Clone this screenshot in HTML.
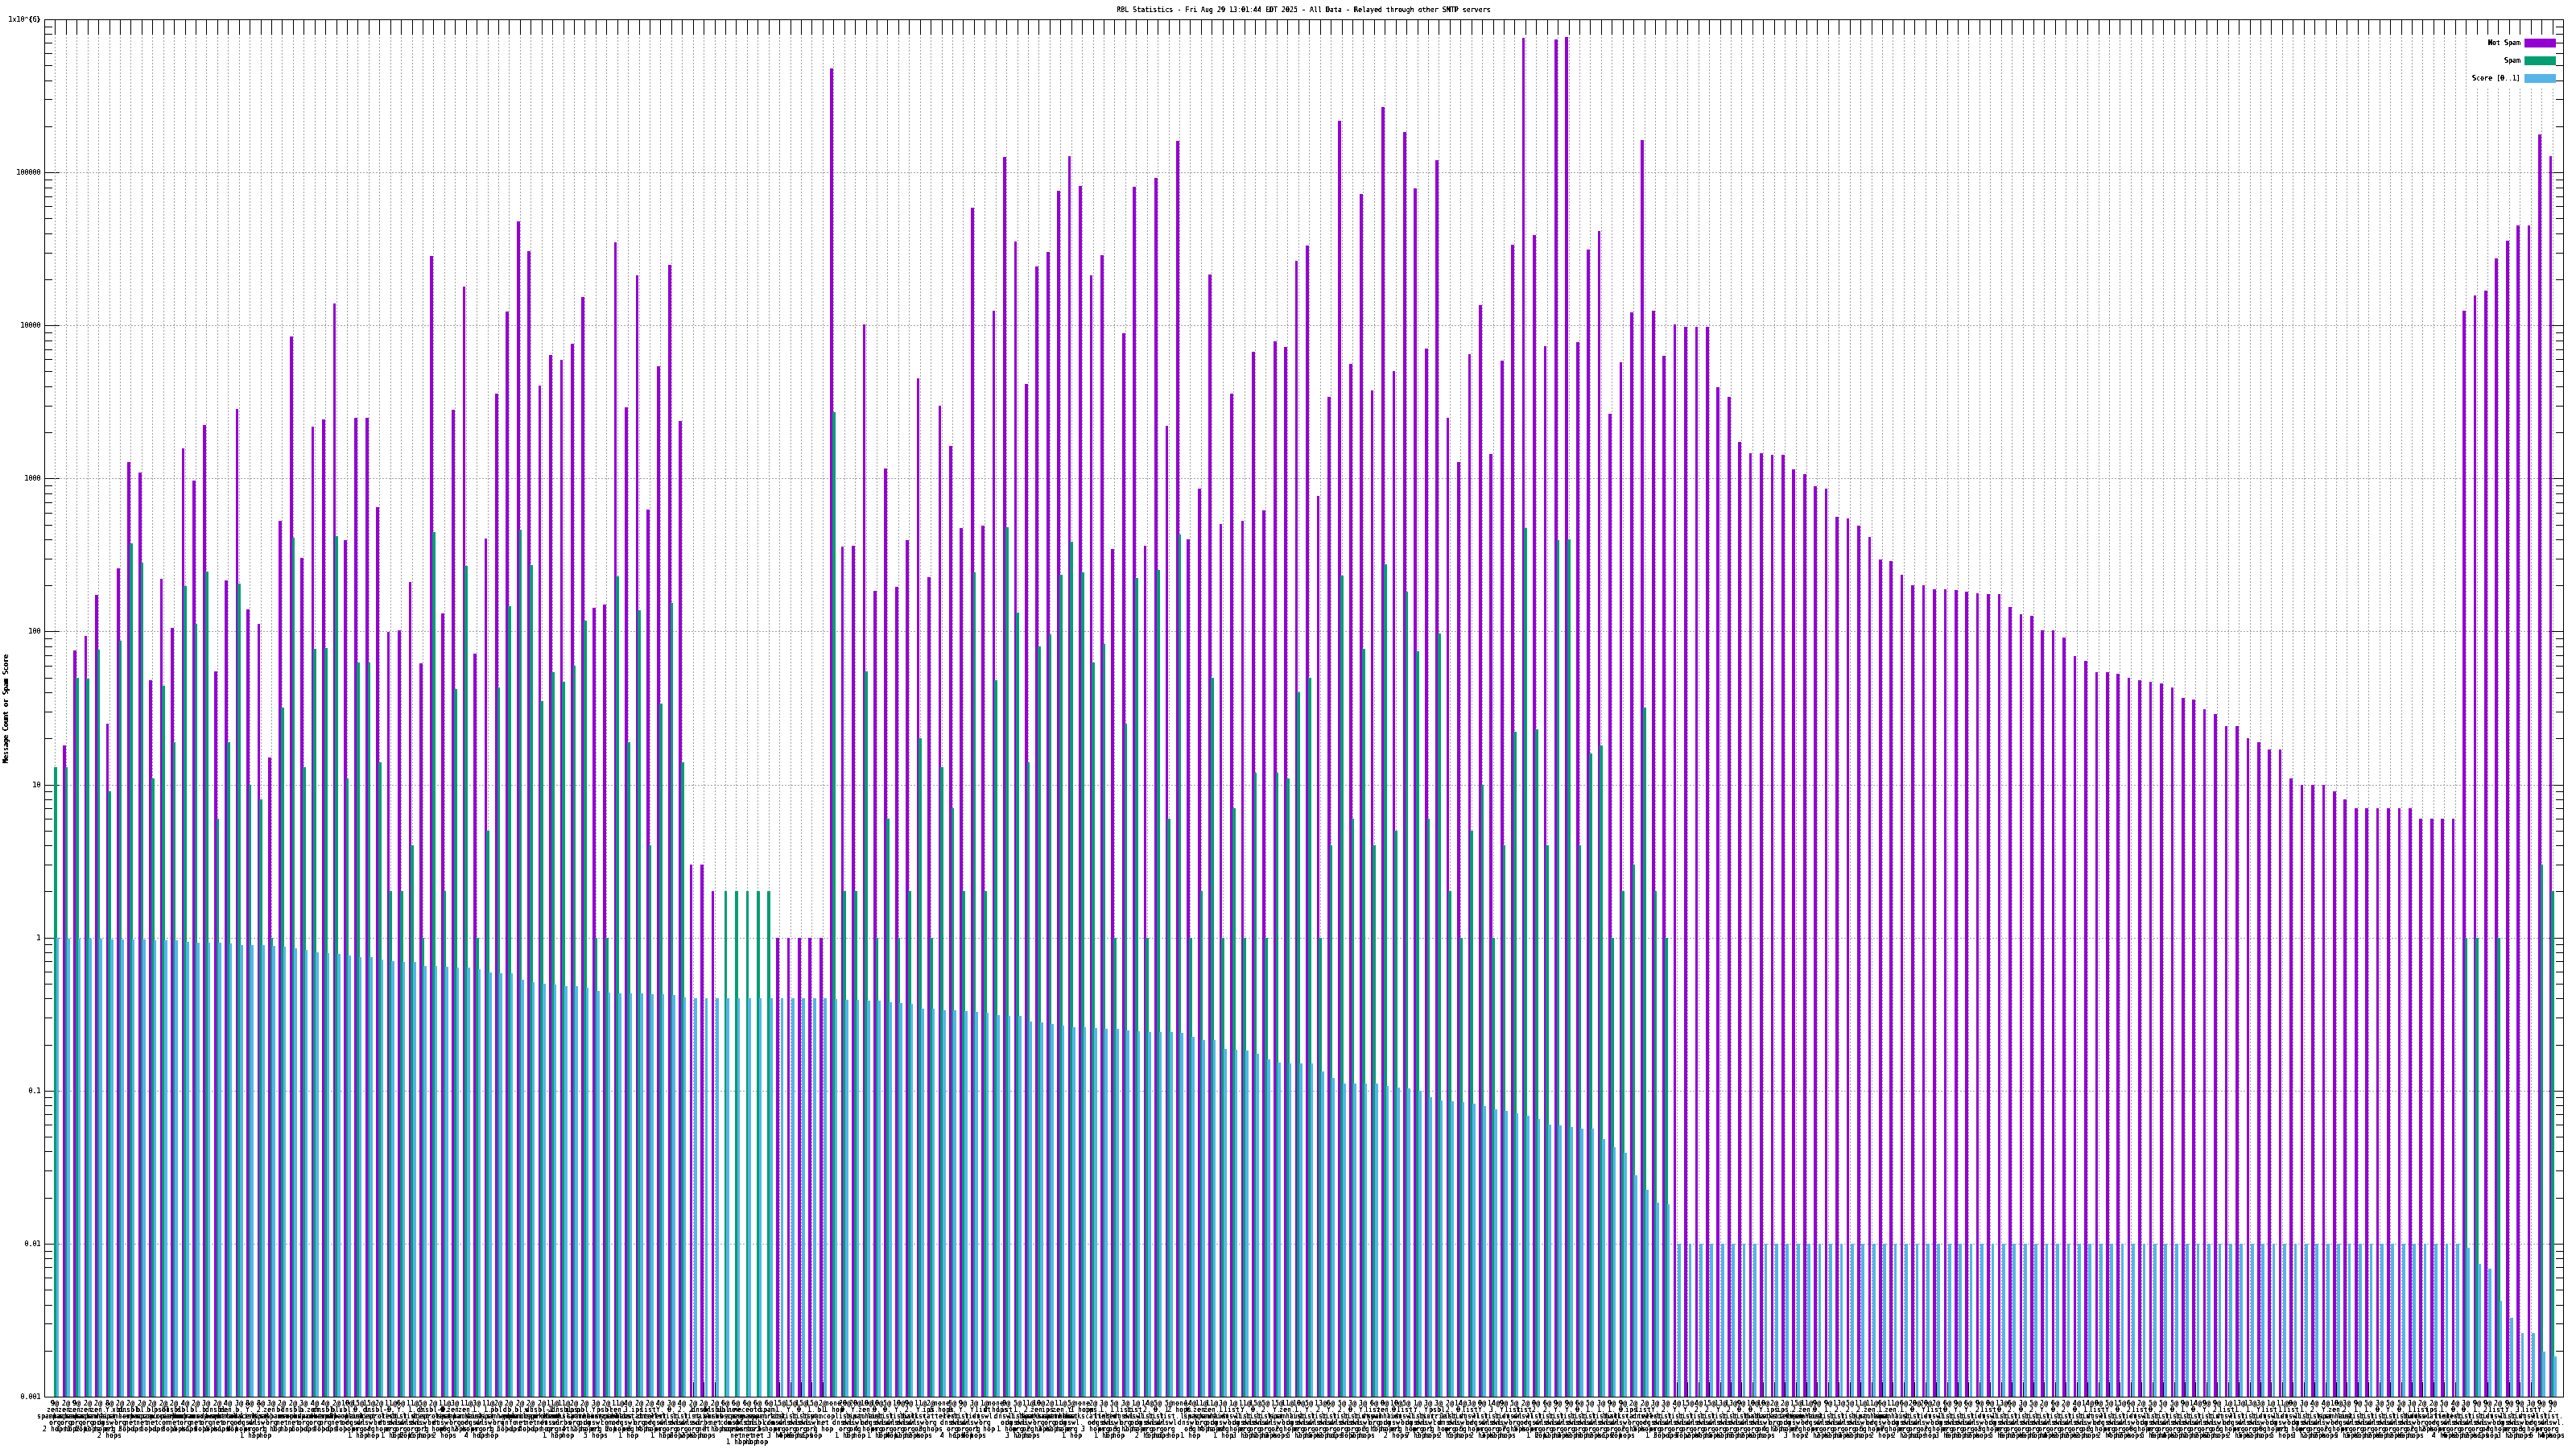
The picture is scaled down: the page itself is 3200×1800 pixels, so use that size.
<!DOCTYPE html>
<html><head><meta charset="utf-8"><title>RBL Statistics</title>
<style>
html,body{margin:0;padding:0;background:#fff;}
body{width:3200px;height:1800px;overflow:hidden;}
svg{display:block;}
text{filter:url(#cr);font-family:"DejaVu Sans Mono","Liberation Mono",monospace;font-size:8.305px;fill:#000;}
.m{text-anchor:middle}.e{text-anchor:end}
</style></head><body>
<svg width="3200" height="1800" viewBox="0 0 3200 1800">
<rect width="3200" height="1800" fill="#fff"/>
<g shape-rendering="crispEdges" fill="none">
<path stroke="#a0a0a0" stroke-width="1" stroke-dasharray="2 2" d="M59 214.5H3184M59 404.5H3184M59 594.5H3184M59 784.5H3184M59 975.5H3184M59 1165.5H3184M59 1355.5H3184M59 1545.5H3184"/>
<path stroke="#000" stroke-width="1" d="M55 24.5H74M3166 24.5H3185M55 157.5H65M3175 157.5H3185M55 123.5H65M3175 123.5H3185M55 100.5H65M3175 100.5H3185M55 81.5H65M3175 81.5H3185M55 66.5H65M3175 66.5H3185M55 53.5H65M3175 53.5H3185M55 42.5H65M3175 42.5H3185M55 33.5H65M3175 33.5H3185M55 214.5H74M3166 214.5H3185M55 347.5H65M3175 347.5H3185M55 314.5H65M3175 314.5H3185M55 290.5H65M3175 290.5H3185M55 271.5H65M3175 271.5H3185M55 256.5H65M3175 256.5H3185M55 244.5H65M3175 244.5H3185M55 233.5H65M3175 233.5H3185M55 223.5H65M3175 223.5H3185M55 404.5H74M3166 404.5H3185M55 537.5H65M3175 537.5H3185M55 504.5H65M3175 504.5H3185M55 480.5H65M3175 480.5H3185M55 461.5H65M3175 461.5H3185M55 446.5H65M3175 446.5H3185M55 434.5H65M3175 434.5H3185M55 423.5H65M3175 423.5H3185M55 413.5H65M3175 413.5H3185M55 594.5H74M3166 594.5H3185M55 727.5H65M3175 727.5H3185M55 694.5H65M3175 694.5H3185M55 670.5H65M3175 670.5H3185M55 652.5H65M3175 652.5H3185M55 637.5H65M3175 637.5H3185M55 624.5H65M3175 624.5H3185M55 613.5H65M3175 613.5H3185M55 603.5H65M3175 603.5H3185M55 784.5H74M3166 784.5H3185M55 917.5H65M3175 917.5H3185M55 884.5H65M3175 884.5H3185M55 860.5H65M3175 860.5H3185M55 842.5H65M3175 842.5H3185M55 827.5H65M3175 827.5H3185M55 814.5H65M3175 814.5H3185M55 803.5H65M3175 803.5H3185M55 793.5H65M3175 793.5H3185M55 975.5H74M3166 975.5H3185M55 1107.5H65M3175 1107.5H3185M55 1074.5H65M3175 1074.5H3185M55 1050.5H65M3175 1050.5H3185M55 1032.5H65M3175 1032.5H3185M55 1017.5H65M3175 1017.5H3185M55 1004.5H65M3175 1004.5H3185M55 993.5H65M3175 993.5H3185M55 983.5H65M3175 983.5H3185M55 1165.5H74M3166 1165.5H3185M55 1298.5H65M3175 1298.5H3185M55 1264.5H65M3175 1264.5H3185M55 1240.5H65M3175 1240.5H3185M55 1222.5H65M3175 1222.5H3185M55 1207.5H65M3175 1207.5H3185M55 1194.5H65M3175 1194.5H3185M55 1183.5H65M3175 1183.5H3185M55 1173.5H65M3175 1173.5H3185M55 1355.5H74M3166 1355.5H3185M55 1488.5H65M3175 1488.5H3185M55 1454.5H65M3175 1454.5H3185M55 1430.5H65M3175 1430.5H3185M55 1412.5H65M3175 1412.5H3185M55 1397.5H65M3175 1397.5H3185M55 1384.5H65M3175 1384.5H3185M55 1373.5H65M3175 1373.5H3185M55 1363.5H65M3175 1363.5H3185M55 1545.5H74M3166 1545.5H3185M55 1678.5H65M3175 1678.5H3185M55 1644.5H65M3175 1644.5H3185M55 1621.5H65M3175 1621.5H3185M55 1602.5H65M3175 1602.5H3185M55 1587.5H65M3175 1587.5H3185M55 1574.5H65M3175 1574.5H3185M55 1563.5H65M3175 1563.5H3185M55 1554.5H65M3175 1554.5H3185M55 1735.5H74M3166 1735.5H3185"/>
<path stroke="#a0a0a0" stroke-width="1" stroke-dasharray="2 2" d="M68.5 26V1735M82.5 26V1735M95.5 26V1735M109.5 26V1735M122.5 26V1735M136.5 26V1735M149.5 26V1735M162.5 26V1735M176.5 26V1735M189.5 26V1735M203.5 26V1735M216.5 26V1735M230.5 26V1735M243.5 26V1735M256.5 26V1735M270.5 26V1735M283.5 26V1735M297.5 26V1735M310.5 26V1735M324.5 26V1735M337.5 26V1735M350.5 26V1735M364.5 26V1735M377.5 26V1735M391.5 26V1735M404.5 26V1735M418.5 26V1735M431.5 26V1735M444.5 26V1735M458.5 26V1735M471.5 26V1735M485.5 26V1735M498.5 26V1735M512.5 26V1735M525.5 26V1735M538.5 26V1735M552.5 26V1735M565.5 26V1735M579.5 26V1735M592.5 26V1735M606.5 26V1735M619.5 26V1735M632.5 26V1735M646.5 26V1735M659.5 26V1735M673.5 26V1735M686.5 26V1735M700.5 26V1735M713.5 26V1735M726.5 26V1735M740.5 26V1735M753.5 26V1735M767.5 26V1735M780.5 26V1735M794.5 26V1735M807.5 26V1735M820.5 26V1735M834.5 26V1735M847.5 26V1735M861.5 26V1735M874.5 26V1735M888.5 26V1735M901.5 26V1735M914.5 26V1735M928.5 26V1735M941.5 26V1735M955.5 26V1735M968.5 26V1735M982.5 26V1735M995.5 26V1735M1008.5 26V1735M1022.5 26V1735M1035.5 26V1735M1049.5 26V1735M1062.5 26V1735M1076.5 26V1735M1089.5 26V1735M1102.5 26V1735M1116.5 26V1735M1129.5 26V1735M1143.5 26V1735M1156.5 26V1735M1170.5 26V1735M1183.5 26V1735M1196.5 26V1735M1210.5 26V1735M1223.5 26V1735M1237.5 26V1735M1250.5 26V1735M1264.5 26V1735M1277.5 26V1735M1290.5 26V1735M1304.5 26V1735M1317.5 26V1735M1331.5 26V1735M1344.5 26V1735M1358.5 26V1735M1371.5 26V1735M1384.5 26V1735M1398.5 26V1735M1411.5 26V1735M1425.5 26V1735M1438.5 26V1735M1452.5 26V1735M1465.5 26V1735M1478.5 26V1735M1492.5 26V1735M1505.5 26V1735M1519.5 26V1735M1532.5 26V1735M1546.5 26V1735M1559.5 26V1735M1572.5 26V1735M1586.5 26V1735M1599.5 26V1735M1613.5 26V1735M1626.5 26V1735M1640.5 26V1735M1653.5 26V1735M1667.5 26V1735M1680.5 26V1735M1693.5 26V1735M1707.5 26V1735M1720.5 26V1735M1734.5 26V1735M1747.5 26V1735M1761.5 26V1735M1774.5 26V1735M1787.5 26V1735M1801.5 26V1735M1814.5 26V1735M1828.5 26V1735M1841.5 26V1735M1855.5 26V1735M1868.5 26V1735M1881.5 26V1735M1895.5 26V1735M1908.5 26V1735M1922.5 26V1735M1935.5 26V1735M1949.5 26V1735M1962.5 26V1735M1975.5 26V1735M1989.5 26V1735M2002.5 26V1735M2016.5 26V1735M2029.5 26V1735M2043.5 26V1735M2056.5 26V1735M2069.5 26V1735M2083.5 26V1735M2096.5 26V1735M2110.5 26V1735M2123.5 26V1735M2137.5 26V1735M2150.5 26V1735M2163.5 26V1735M2177.5 26V1735M2190.5 26V1735M2204.5 26V1735M2217.5 26V1735M2231.5 26V1735M2244.5 26V1735M2257.5 26V1735M2271.5 26V1735M2284.5 26V1735M2298.5 26V1735M2311.5 26V1735M2325.5 26V1735M2338.5 26V1735M2351.5 26V1735M2365.5 26V1735M2378.5 26V1735M2392.5 26V1735M2405.5 26V1735M2419.5 26V1735M2432.5 26V1735M2445.5 26V1735M2459.5 26V1735M2472.5 26V1735M2486.5 26V1735M2499.5 26V1735M2513.5 26V1735M2526.5 26V1735M2539.5 26V1735M2553.5 26V1735M2566.5 26V1735M2580.5 26V1735M2593.5 26V1735M2607.5 26V1735M2620.5 26V1735M2633.5 26V1735M2647.5 26V1735M2660.5 26V1735M2674.5 26V1735M2687.5 26V1735M2701.5 26V1735M2714.5 26V1735M2727.5 26V1735M2741.5 26V1735M2754.5 26V1735M2768.5 26V1735M2781.5 26V1735M2795.5 26V1735M2808.5 26V1735M2821.5 26V1735M2835.5 26V1735M2848.5 26V1735M2862.5 26V1735M2875.5 26V1735M2889.5 26V1735M2902.5 26V1735M2915.5 26V1735M2929.5 26V1735M2942.5 26V1735M2956.5 26V1735M2969.5 26V1735M2983.5 26V1735M2996.5 26V1735M3009.5 26V1735M3023.5 26V1735M3036.5 26V1735M3050.5 26V1735M3063.5 26V1735M3077.5 26V1735M3090.5 26V1735M3103.5 26V1735M3117.5 26V1735M3130.5 26V1735M3144.5 26V1735M3157.5 26V1735M3171.5 26V1735"/>
<path stroke="#000" stroke-width="1" d="M68.5 24V43M68.5 1717V1736M82.5 24V43M82.5 1717V1736M95.5 24V43M95.5 1717V1736M109.5 24V43M109.5 1717V1736M122.5 24V43M122.5 1717V1736M136.5 24V43M136.5 1717V1736M149.5 24V43M149.5 1717V1736M162.5 24V43M162.5 1717V1736M176.5 24V43M176.5 1717V1736M189.5 24V43M189.5 1717V1736M203.5 24V43M203.5 1717V1736M216.5 24V43M216.5 1717V1736M230.5 24V43M230.5 1717V1736M243.5 24V43M243.5 1717V1736M256.5 24V43M256.5 1717V1736M270.5 24V43M270.5 1717V1736M283.5 24V43M283.5 1717V1736M297.5 24V43M297.5 1717V1736M310.5 24V43M310.5 1717V1736M324.5 24V43M324.5 1717V1736M337.5 24V43M337.5 1717V1736M350.5 24V43M350.5 1717V1736M364.5 24V43M364.5 1717V1736M377.5 24V43M377.5 1717V1736M391.5 24V43M391.5 1717V1736M404.5 24V43M404.5 1717V1736M418.5 24V43M418.5 1717V1736M431.5 24V43M431.5 1717V1736M444.5 24V43M444.5 1717V1736M458.5 24V43M458.5 1717V1736M471.5 24V43M471.5 1717V1736M485.5 24V43M485.5 1717V1736M498.5 24V43M498.5 1717V1736M512.5 24V43M512.5 1717V1736M525.5 24V43M525.5 1717V1736M538.5 24V43M538.5 1717V1736M552.5 24V43M552.5 1717V1736M565.5 24V43M565.5 1717V1736M579.5 24V43M579.5 1717V1736M592.5 24V43M592.5 1717V1736M606.5 24V43M606.5 1717V1736M619.5 24V43M619.5 1717V1736M632.5 24V43M632.5 1717V1736M646.5 24V43M646.5 1717V1736M659.5 24V43M659.5 1717V1736M673.5 24V43M673.5 1717V1736M686.5 24V43M686.5 1717V1736M700.5 24V43M700.5 1717V1736M713.5 24V43M713.5 1717V1736M726.5 24V43M726.5 1717V1736M740.5 24V43M740.5 1717V1736M753.5 24V43M753.5 1717V1736M767.5 24V43M767.5 1717V1736M780.5 24V43M780.5 1717V1736M794.5 24V43M794.5 1717V1736M807.5 24V43M807.5 1717V1736M820.5 24V43M820.5 1717V1736M834.5 24V43M834.5 1717V1736M847.5 24V43M847.5 1717V1736M861.5 24V43M861.5 1717V1736M874.5 24V43M874.5 1717V1736M888.5 24V43M888.5 1717V1736M901.5 24V43M901.5 1717V1736M914.5 24V43M914.5 1717V1736M928.5 24V43M928.5 1717V1736M941.5 24V43M941.5 1717V1736M955.5 24V43M955.5 1717V1736M968.5 24V43M968.5 1717V1736M982.5 24V43M982.5 1717V1736M995.5 24V43M995.5 1717V1736M1008.5 24V43M1008.5 1717V1736M1022.5 24V43M1022.5 1717V1736M1035.5 24V43M1035.5 1717V1736M1049.5 24V43M1049.5 1717V1736M1062.5 24V43M1062.5 1717V1736M1076.5 24V43M1076.5 1717V1736M1089.5 24V43M1089.5 1717V1736M1102.5 24V43M1102.5 1717V1736M1116.5 24V43M1116.5 1717V1736M1129.5 24V43M1129.5 1717V1736M1143.5 24V43M1143.5 1717V1736M1156.5 24V43M1156.5 1717V1736M1170.5 24V43M1170.5 1717V1736M1183.5 24V43M1183.5 1717V1736M1196.5 24V43M1196.5 1717V1736M1210.5 24V43M1210.5 1717V1736M1223.5 24V43M1223.5 1717V1736M1237.5 24V43M1237.5 1717V1736M1250.5 24V43M1250.5 1717V1736M1264.5 24V43M1264.5 1717V1736M1277.5 24V43M1277.5 1717V1736M1290.5 24V43M1290.5 1717V1736M1304.5 24V43M1304.5 1717V1736M1317.5 24V43M1317.5 1717V1736M1331.5 24V43M1331.5 1717V1736M1344.5 24V43M1344.5 1717V1736M1358.5 24V43M1358.5 1717V1736M1371.5 24V43M1371.5 1717V1736M1384.5 24V43M1384.5 1717V1736M1398.5 24V43M1398.5 1717V1736M1411.5 24V43M1411.5 1717V1736M1425.5 24V43M1425.5 1717V1736M1438.5 24V43M1438.5 1717V1736M1452.5 24V43M1452.5 1717V1736M1465.5 24V43M1465.5 1717V1736M1478.5 24V43M1478.5 1717V1736M1492.5 24V43M1492.5 1717V1736M1505.5 24V43M1505.5 1717V1736M1519.5 24V43M1519.5 1717V1736M1532.5 24V43M1532.5 1717V1736M1546.5 24V43M1546.5 1717V1736M1559.5 24V43M1559.5 1717V1736M1572.5 24V43M1572.5 1717V1736M1586.5 24V43M1586.5 1717V1736M1599.5 24V43M1599.5 1717V1736M1613.5 24V43M1613.5 1717V1736M1626.5 24V43M1626.5 1717V1736M1640.5 24V43M1640.5 1717V1736M1653.5 24V43M1653.5 1717V1736M1667.5 24V43M1667.5 1717V1736M1680.5 24V43M1680.5 1717V1736M1693.5 24V43M1693.5 1717V1736M1707.5 24V43M1707.5 1717V1736M1720.5 24V43M1720.5 1717V1736M1734.5 24V43M1734.5 1717V1736M1747.5 24V43M1747.5 1717V1736M1761.5 24V43M1761.5 1717V1736M1774.5 24V43M1774.5 1717V1736M1787.5 24V43M1787.5 1717V1736M1801.5 24V43M1801.5 1717V1736M1814.5 24V43M1814.5 1717V1736M1828.5 24V43M1828.5 1717V1736M1841.5 24V43M1841.5 1717V1736M1855.5 24V43M1855.5 1717V1736M1868.5 24V43M1868.5 1717V1736M1881.5 24V43M1881.5 1717V1736M1895.5 24V43M1895.5 1717V1736M1908.5 24V43M1908.5 1717V1736M1922.5 24V43M1922.5 1717V1736M1935.5 24V43M1935.5 1717V1736M1949.5 24V43M1949.5 1717V1736M1962.5 24V43M1962.5 1717V1736M1975.5 24V43M1975.5 1717V1736M1989.5 24V43M1989.5 1717V1736M2002.5 24V43M2002.5 1717V1736M2016.5 24V43M2016.5 1717V1736M2029.5 24V43M2029.5 1717V1736M2043.5 24V43M2043.5 1717V1736M2056.5 24V43M2056.5 1717V1736M2069.5 24V43M2069.5 1717V1736M2083.5 24V43M2083.5 1717V1736M2096.5 24V43M2096.5 1717V1736M2110.5 24V43M2110.5 1717V1736M2123.5 24V43M2123.5 1717V1736M2137.5 24V43M2137.5 1717V1736M2150.5 24V43M2150.5 1717V1736M2163.5 24V43M2163.5 1717V1736M2177.5 24V43M2177.5 1717V1736M2190.5 24V43M2190.5 1717V1736M2204.5 24V43M2204.5 1717V1736M2217.5 24V43M2217.5 1717V1736M2231.5 24V43M2231.5 1717V1736M2244.5 24V43M2244.5 1717V1736M2257.5 24V43M2257.5 1717V1736M2271.5 24V43M2271.5 1717V1736M2284.5 24V43M2284.5 1717V1736M2298.5 24V43M2298.5 1717V1736M2311.5 24V43M2311.5 1717V1736M2325.5 24V43M2325.5 1717V1736M2338.5 24V43M2338.5 1717V1736M2351.5 24V43M2351.5 1717V1736M2365.5 24V43M2365.5 1717V1736M2378.5 24V43M2378.5 1717V1736M2392.5 24V43M2392.5 1717V1736M2405.5 24V43M2405.5 1717V1736M2419.5 24V43M2419.5 1717V1736M2432.5 24V43M2432.5 1717V1736M2445.5 24V43M2445.5 1717V1736M2459.5 24V43M2459.5 1717V1736M2472.5 24V43M2472.5 1717V1736M2486.5 24V43M2486.5 1717V1736M2499.5 24V43M2499.5 1717V1736M2513.5 24V43M2513.5 1717V1736M2526.5 24V43M2526.5 1717V1736M2539.5 24V43M2539.5 1717V1736M2553.5 24V43M2553.5 1717V1736M2566.5 24V43M2566.5 1717V1736M2580.5 24V43M2580.5 1717V1736M2593.5 24V43M2593.5 1717V1736M2607.5 24V43M2607.5 1717V1736M2620.5 24V43M2620.5 1717V1736M2633.5 24V43M2633.5 1717V1736M2647.5 24V43M2647.5 1717V1736M2660.5 24V43M2660.5 1717V1736M2674.5 24V43M2674.5 1717V1736M2687.5 24V43M2687.5 1717V1736M2701.5 24V43M2701.5 1717V1736M2714.5 24V43M2714.5 1717V1736M2727.5 24V43M2727.5 1717V1736M2741.5 24V43M2741.5 1717V1736M2754.5 24V43M2754.5 1717V1736M2768.5 24V43M2768.5 1717V1736M2781.5 24V43M2781.5 1717V1736M2795.5 24V43M2795.5 1717V1736M2808.5 24V43M2808.5 1717V1736M2821.5 24V43M2821.5 1717V1736M2835.5 24V43M2835.5 1717V1736M2848.5 24V43M2848.5 1717V1736M2862.5 24V43M2862.5 1717V1736M2875.5 24V43M2875.5 1717V1736M2889.5 24V43M2889.5 1717V1736M2902.5 24V43M2902.5 1717V1736M2915.5 24V43M2915.5 1717V1736M2929.5 24V43M2929.5 1717V1736M2942.5 24V43M2942.5 1717V1736M2956.5 24V43M2956.5 1717V1736M2969.5 24V43M2969.5 1717V1736M2983.5 24V43M2983.5 1717V1736M2996.5 24V43M2996.5 1717V1736M3009.5 24V43M3009.5 1717V1736M3023.5 24V43M3023.5 1717V1736M3036.5 24V43M3036.5 1717V1736M3050.5 24V43M3050.5 1717V1736M3063.5 24V43M3063.5 1717V1736M3077.5 24V43M3077.5 1717V1736M3090.5 24V43M3090.5 1717V1736M3103.5 24V43M3103.5 1717V1736M3117.5 24V43M3117.5 1717V1736M3130.5 24V43M3130.5 1717V1736M3144.5 24V43M3144.5 1717V1736M3157.5 24V43M3157.5 1717V1736M3171.5 24V43M3171.5 1717V1736"/>
</g>
<g shape-rendering="crispEdges">
<rect x="3066" y="43" width="109" height="66" fill="#fff"/>
<rect x="3136" y="48" width="39" height="11" fill="#9400d3"/>
<rect x="3136" y="70" width="39" height="11" fill="#009e73"/>
<rect x="3136" y="92" width="39" height="11" fill="#56b4e9"/>
<path fill="#9400d3" d="M78 926h4v809h-4zM91 808h4v927h-4zM105 790h3v945h-3zM118 739h4v996h-4zM132 899h3v836h-3zM145 706h4v1029h-4zM158 574h4v1161h-4zM172 587h4v1148h-4zM185 845h4v890h-4zM199 719h3v1016h-3zM212 780h4v955h-4zM226 557h3v1178h-3zM239 597h4v1138h-4zM252 528h4v1207h-4zM266 834h4v901h-4zM279 721h4v1014h-4zM293 508h3v1227h-3zM306 757h4v978h-4zM320 775h3v960h-3zM333 941h4v794h-4zM346 647h4v1088h-4zM360 418h4v1317h-4zM373 693h4v1042h-4zM387 530h3v1205h-3zM400 521h4v1214h-4zM414 377h3v1358h-3zM427 671h4v1064h-4zM440 519h4v1216h-4zM454 519h4v1216h-4zM467 630h4v1105h-4zM481 785h3v950h-3zM494 783h4v952h-4zM508 723h3v1012h-3zM521 824h4v911h-4zM534 318h4v1417h-4zM548 762h4v973h-4zM561 509h4v1226h-4zM575 356h3v1379h-3zM588 812h4v923h-4zM602 669h3v1066h-3zM615 489h4v1246h-4zM628 387h4v1348h-4zM642 275h4v1460h-4zM655 312h4v1423h-4zM669 479h3v1256h-3zM682 441h4v1294h-4zM696 447h3v1288h-3zM709 427h4v1308h-4zM722 369h4v1366h-4zM736 755h4v980h-4zM749 751h4v984h-4zM763 301h3v1434h-3zM776 506h4v1229h-4zM790 342h3v1393h-3zM803 633h4v1102h-4zM816 455h4v1280h-4zM830 329h4v1406h-4zM843 523h4v1212h-4zM857 1074h3v661h-3zM870 1074h4v661h-4zM884 1107h3v628h-3zM964 1165h4v570h-4zM978 1165h3v570h-3zM991 1165h4v570h-4zM1004 1165h4v570h-4zM1018 1165h4v570h-4zM1031 85h4v1650h-4zM1045 679h3v1056h-3zM1058 678h4v1057h-4zM1072 403h3v1332h-3zM1085 734h4v1001h-4zM1098 582h4v1153h-4zM1112 729h4v1006h-4zM1125 671h4v1064h-4zM1139 470h3v1265h-3zM1152 717h4v1018h-4zM1166 504h3v1231h-3zM1179 554h4v1181h-4zM1192 656h4v1079h-4zM1206 258h4v1477h-4zM1219 653h4v1082h-4zM1233 386h3v1349h-3zM1246 195h4v1540h-4zM1260 300h3v1435h-3zM1273 477h4v1258h-4zM1286 331h4v1404h-4zM1300 313h4v1422h-4zM1313 237h4v1498h-4zM1327 194h3v1541h-3zM1340 231h4v1504h-4zM1354 342h3v1393h-3zM1367 317h4v1418h-4zM1380 682h4v1053h-4zM1394 414h4v1321h-4zM1407 232h4v1503h-4zM1421 678h3v1057h-3zM1434 221h4v1514h-4zM1448 529h3v1206h-3zM1461 175h4v1560h-4zM1474 670h4v1065h-4zM1488 607h4v1128h-4zM1501 341h4v1394h-4zM1515 651h3v1084h-3zM1528 489h4v1246h-4zM1542 647h3v1088h-3zM1555 437h4v1298h-4zM1568 634h4v1101h-4zM1582 424h4v1311h-4zM1595 431h4v1304h-4zM1609 324h3v1411h-3zM1622 305h4v1430h-4zM1636 616h3v1119h-3zM1649 493h4v1242h-4zM1662 150h4v1585h-4zM1676 452h4v1283h-4zM1689 241h4v1494h-4zM1703 485h3v1250h-3zM1716 133h4v1602h-4zM1730 461h3v1274h-3zM1743 164h4v1571h-4zM1756 234h4v1501h-4zM1770 433h4v1302h-4zM1783 199h4v1536h-4zM1797 519h3v1216h-3zM1810 574h4v1161h-4zM1824 440h3v1295h-3zM1837 379h4v1356h-4zM1850 564h4v1171h-4zM1864 448h4v1287h-4zM1877 304h4v1431h-4zM1891 47h3v1688h-3zM1904 292h4v1443h-4zM1918 430h3v1305h-3zM1931 49h4v1686h-4zM1944 46h4v1689h-4zM1958 425h4v1310h-4zM1971 310h4v1425h-4zM1985 287h3v1448h-3zM1998 514h4v1221h-4zM2012 450h3v1285h-3zM2025 388h4v1347h-4zM2038 174h4v1561h-4zM2052 386h4v1349h-4zM2065 442h4v1293h-4zM2079 403h3v1332h-3zM2092 406h4v1329h-4zM2106 406h3v1329h-3zM2119 406h4v1329h-4zM2132 481h4v1254h-4zM2146 493h4v1242h-4zM2159 549h4v1186h-4zM2173 563h3v1172h-3zM2186 563h4v1172h-4zM2200 565h3v1170h-3zM2213 565h4v1170h-4zM2226 583h4v1152h-4zM2240 589h4v1146h-4zM2253 604h4v1131h-4zM2267 607h3v1128h-3zM2280 642h4v1093h-4zM2294 644h3v1091h-3zM2307 653h4v1082h-4zM2321 667h3v1068h-3zM2334 695h4v1040h-4zM2347 697h4v1038h-4zM2361 714h3v1021h-3zM2374 727h4v1008h-4zM2388 727h3v1008h-3zM2401 732h4v1003h-4zM2415 732h3v1003h-3zM2428 733h4v1002h-4zM2441 735h4v1000h-4zM2455 737h3v998h-3zM2468 738h4v997h-4zM2482 738h3v997h-3zM2495 754h4v981h-4zM2509 763h3v972h-3zM2522 765h4v970h-4zM2535 783h4v952h-4zM2549 783h3v952h-3zM2562 792h4v943h-4zM2576 815h3v920h-3zM2589 821h4v914h-4zM2603 835h3v900h-3zM2616 835h4v900h-4zM2629 837h4v898h-4zM2643 842h3v893h-3zM2656 845h4v890h-4zM2670 847h3v888h-3zM2683 849h4v886h-4zM2697 854h3v881h-3zM2710 867h4v868h-4zM2723 869h4v866h-4zM2737 881h3v854h-3zM2750 887h4v848h-4zM2764 902h3v833h-3zM2777 902h4v833h-4zM2791 917h3v818h-3zM2804 922h4v813h-4zM2817 931h4v804h-4zM2831 931h3v804h-3zM2844 967h4v768h-4zM2858 975h3v760h-3zM2871 975h4v760h-4zM2885 975h3v760h-3zM2898 983h4v752h-4zM2911 993h4v742h-4zM2925 1004h4v731h-4zM2938 1004h4v731h-4zM2952 1004h3v731h-3zM2965 1004h4v731h-4zM2979 1004h3v731h-3zM2992 1004h4v731h-4zM3005 1017h4v718h-4zM3019 1017h4v718h-4zM3032 1017h4v718h-4zM3046 1017h3v718h-3zM3059 386h4v1349h-4zM3073 367h3v1368h-3zM3086 361h4v1374h-4zM3099 321h4v1414h-4zM3113 299h4v1436h-4zM3126 280h4v1455h-4zM3140 280h3v1455h-3zM3153 167h4v1568h-4zM3167 194h3v1541h-3z"/>
<path fill="#009e73" d="M67 953h4v782h-4zM81 953h3v782h-3zM94 842h4v893h-4zM107 843h4v892h-4zM121 807h3v928h-3zM134 983h4v752h-4zM148 796h3v939h-3zM161 675h4v1060h-4zM175 699h3v1036h-3zM188 967h4v768h-4zM201 852h4v883h-4zM215 922h3v813h-3zM228 728h4v1007h-4zM242 775h3v960h-3zM255 710h4v1025h-4zM269 1017h3v718h-3zM282 922h4v813h-4zM295 725h4v1010h-4zM309 975h3v760h-3zM322 993h4v742h-4zM336 1165h3v570h-3zM349 879h4v856h-4zM363 668h3v1067h-3zM376 953h4v782h-4zM389 806h4v929h-4zM403 805h4v930h-4zM416 666h4v1069h-4zM430 967h3v768h-3zM443 823h4v912h-4zM457 823h3v912h-3zM470 947h4v788h-4zM483 1107h4v628h-4zM497 1107h4v628h-4zM510 1050h4v685h-4zM524 1165h3v570h-3zM537 661h4v1074h-4zM551 1107h3v628h-3zM564 856h4v879h-4zM577 703h4v1032h-4zM591 1165h4v570h-4zM604 1032h4v703h-4zM618 854h3v881h-3zM631 753h4v982h-4zM645 658h3v1077h-3zM658 702h4v1033h-4zM671 871h4v864h-4zM685 835h4v900h-4zM698 847h4v888h-4zM712 827h3v908h-3zM725 771h4v964h-4zM739 1165h3v570h-3zM752 1165h4v570h-4zM765 716h4v1019h-4zM779 922h4v813h-4zM792 758h4v977h-4zM806 1050h3v685h-3zM819 874h4v861h-4zM833 749h3v986h-3zM846 947h4v788h-4zM900 1107h3v628h-3zM913 1107h4v628h-4zM927 1107h3v628h-3zM940 1107h4v628h-4zM953 1107h4v628h-4zM1034 512h4v1223h-4zM1047 1107h4v628h-4zM1061 1107h4v628h-4zM1074 834h4v901h-4zM1088 1165h3v570h-3zM1101 1017h4v718h-4zM1115 1165h3v570h-3zM1128 1107h4v628h-4zM1141 917h4v818h-4zM1155 1165h4v570h-4zM1168 953h4v782h-4zM1182 1004h3v731h-3zM1195 1107h4v628h-4zM1209 711h3v1024h-3zM1222 1107h4v628h-4zM1235 845h4v890h-4zM1249 655h4v1080h-4zM1262 761h4v974h-4zM1276 947h3v788h-3zM1289 803h4v932h-4zM1303 788h3v947h-3zM1316 714h4v1021h-4zM1329 673h4v1062h-4zM1343 711h4v1024h-4zM1356 823h4v912h-4zM1370 800h3v935h-3zM1383 1165h4v570h-4zM1397 899h3v836h-3zM1410 718h4v1017h-4zM1423 1165h4v570h-4zM1437 708h4v1027h-4zM1450 1017h4v718h-4zM1464 664h3v1071h-3zM1477 1165h4v570h-4zM1491 1107h3v628h-3zM1504 842h4v893h-4zM1517 1165h4v570h-4zM1531 1004h4v731h-4zM1544 1165h4v570h-4zM1558 960h3v775h-3zM1571 1165h4v570h-4zM1585 960h3v775h-3zM1598 967h4v768h-4zM1611 860h4v875h-4zM1625 842h4v893h-4zM1638 1165h4v570h-4zM1652 1050h3v685h-3zM1665 715h4v1020h-4zM1679 1017h3v718h-3zM1692 806h4v929h-4zM1705 1050h4v685h-4zM1719 701h4v1034h-4zM1732 1032h4v703h-4zM1746 735h3v1000h-3zM1759 809h4v926h-4zM1773 1017h3v718h-3zM1786 787h4v948h-4zM1799 1107h4v628h-4zM1813 1165h4v570h-4zM1826 1032h4v703h-4zM1840 975h3v760h-3zM1853 1165h4v570h-4zM1867 1050h3v685h-3zM1880 909h4v826h-4zM1893 656h4v1079h-4zM1907 906h4v829h-4zM1920 1050h4v685h-4zM1934 671h3v1064h-3zM1947 670h4v1065h-4zM1961 1050h3v685h-3zM1974 936h4v799h-4zM1987 926h4v809h-4zM2001 1165h4v570h-4zM2014 1107h4v628h-4zM2028 1074h3v661h-3zM2041 879h4v856h-4zM2055 1107h3v628h-3zM2068 1165h4v570h-4zM3062 1165h3v570h-3zM3075 1165h4v570h-4zM3102 1165h4v570h-4zM3156 1074h3v661h-3zM3169 1107h4v628h-4z"/>
<path fill="#56b4e9" d="M70 1165h3v570h-3zM83 1166h4v569h-4zM97 1166h3v569h-3zM110 1166h4v569h-4zM123 1166h4v569h-4zM137 1167h4v568h-4zM150 1167h4v568h-4zM164 1167h3v568h-3zM177 1167h4v568h-4zM191 1168h3v567h-3zM204 1168h4v567h-4zM217 1168h4v567h-4zM231 1170h4v565h-4zM244 1171h4v564h-4zM258 1171h3v564h-3zM271 1171h4v564h-4zM285 1172h3v563h-3zM298 1174h4v561h-4zM311 1174h4v561h-4zM325 1174h4v561h-4zM338 1175h4v560h-4zM352 1176h3v559h-3zM365 1178h4v557h-4zM379 1180h3v555h-3zM392 1183h4v552h-4zM406 1184h3v551h-3zM419 1185h4v550h-4zM432 1187h4v548h-4zM446 1189h3v546h-3zM459 1189h4v546h-4zM473 1192h3v543h-3zM486 1194h4v541h-4zM500 1195h3v540h-3zM513 1195h4v540h-4zM526 1200h4v535h-4zM540 1200h3v535h-3zM553 1201h4v534h-4zM567 1202h3v533h-3zM580 1202h4v533h-4zM594 1204h3v531h-3zM607 1208h4v527h-4zM620 1209h4v526h-4zM634 1209h3v526h-3zM647 1217h4v518h-4zM661 1220h3v515h-3zM674 1222h4v513h-4zM688 1223h3v512h-3zM701 1225h4v510h-4zM714 1225h4v510h-4zM728 1227h3v508h-3zM741 1231h4v504h-4zM755 1233h3v502h-3zM768 1234h4v501h-4zM782 1234h3v501h-3zM795 1234h4v501h-4zM808 1235h4v500h-4zM822 1235h3v500h-3zM835 1236h4v499h-4zM849 1239h3v496h-3zM862 1240h4v495h-4zM876 1240h3v495h-3zM889 1240h4v495h-4zM902 1240h4v495h-4zM916 1240h3v495h-3zM929 1240h4v495h-4zM943 1240h3v495h-3zM956 1240h4v495h-4zM970 1240h3v495h-3zM983 1240h4v495h-4zM996 1240h4v495h-4zM1010 1240h4v495h-4zM1023 1240h4v495h-4zM1037 1241h3v494h-3zM1050 1242h4v493h-4zM1064 1242h3v493h-3zM1077 1243h4v492h-4zM1090 1243h4v492h-4zM1104 1245h4v490h-4zM1117 1246h4v489h-4zM1131 1247h3v488h-3zM1144 1253h4v482h-4zM1158 1253h3v482h-3zM1171 1255h4v480h-4zM1184 1255h4v480h-4zM1198 1256h4v479h-4zM1211 1257h4v478h-4zM1225 1258h3v477h-3zM1238 1261h4v474h-4zM1252 1262h3v473h-3zM1265 1262h4v473h-4zM1278 1269h4v466h-4zM1292 1270h4v465h-4zM1305 1272h4v463h-4zM1319 1274h3v461h-3zM1332 1276h4v459h-4zM1346 1276h3v459h-3zM1359 1277h4v458h-4zM1372 1278h4v457h-4zM1386 1278h4v457h-4zM1399 1280h4v455h-4zM1413 1281h3v454h-3zM1426 1282h4v453h-4zM1440 1282h3v453h-3zM1453 1282h4v453h-4zM1466 1283h4v452h-4zM1480 1288h4v447h-4zM1493 1292h4v443h-4zM1507 1292h3v443h-3zM1520 1303h4v432h-4zM1534 1304h3v431h-3zM1547 1305h4v430h-4zM1560 1309h4v426h-4zM1574 1316h4v419h-4zM1587 1320h4v415h-4zM1601 1321h3v414h-3zM1614 1321h4v414h-4zM1628 1321h3v414h-3zM1641 1331h4v404h-4zM1654 1339h4v396h-4zM1668 1346h4v389h-4zM1681 1346h4v389h-4zM1695 1346h3v389h-3zM1708 1346h4v389h-4zM1722 1349h3v386h-3zM1735 1351h4v384h-4zM1748 1352h4v383h-4zM1762 1355h4v380h-4zM1775 1363h4v372h-4zM1789 1367h3v368h-3zM1802 1368h4v367h-4zM1816 1369h3v366h-3zM1829 1371h4v364h-4zM1842 1374h4v361h-4zM1856 1378h4v357h-4zM1869 1380h4v355h-4zM1883 1383h3v352h-3zM1896 1386h4v349h-4zM1910 1390h3v345h-3zM1923 1397h4v338h-4zM1936 1398h4v337h-4zM1950 1400h4v335h-4zM1963 1402h4v333h-4zM1977 1402h3v333h-3zM1990 1415h4v320h-4zM2004 1425h3v310h-3zM2017 1432h4v303h-4zM2030 1460h4v275h-4zM2044 1478h4v257h-4zM2057 1494h4v241h-4zM2071 1496h3v239h-3zM2084 1545h4v190h-4zM2098 1545h3v190h-3zM2111 1545h4v190h-4zM2124 1545h4v190h-4zM2138 1545h4v190h-4zM2151 1545h4v190h-4zM2165 1545h3v190h-3zM2178 1545h4v190h-4zM2192 1545h3v190h-3zM2205 1545h4v190h-4zM2218 1545h4v190h-4zM2232 1545h4v190h-4zM2245 1545h4v190h-4zM2259 1545h3v190h-3zM2272 1545h4v190h-4zM2286 1545h3v190h-3zM2299 1545h4v190h-4zM2312 1545h4v190h-4zM2326 1545h4v190h-4zM2339 1545h4v190h-4zM2353 1545h3v190h-3zM2366 1545h4v190h-4zM2380 1545h3v190h-3zM2393 1545h4v190h-4zM2406 1545h4v190h-4zM2420 1545h4v190h-4zM2433 1545h4v190h-4zM2447 1545h3v190h-3zM2460 1545h4v190h-4zM2474 1545h3v190h-3zM2487 1545h4v190h-4zM2500 1545h4v190h-4zM2514 1545h4v190h-4zM2527 1545h4v190h-4zM2541 1545h3v190h-3zM2554 1545h4v190h-4zM2568 1545h3v190h-3zM2581 1545h4v190h-4zM2594 1545h4v190h-4zM2608 1545h4v190h-4zM2621 1545h4v190h-4zM2635 1545h3v190h-3zM2648 1545h4v190h-4zM2662 1545h3v190h-3zM2675 1545h4v190h-4zM2688 1545h4v190h-4zM2702 1545h4v190h-4zM2715 1545h4v190h-4zM2729 1545h3v190h-3zM2742 1545h4v190h-4zM2756 1545h3v190h-3zM2769 1545h4v190h-4zM2782 1545h4v190h-4zM2796 1545h4v190h-4zM2809 1545h4v190h-4zM2823 1545h3v190h-3zM2836 1545h4v190h-4zM2850 1545h3v190h-3zM2863 1545h4v190h-4zM2876 1545h4v190h-4zM2890 1545h4v190h-4zM2903 1545h4v190h-4zM2917 1545h3v190h-3zM2930 1545h4v190h-4zM2944 1545h3v190h-3zM2957 1545h4v190h-4zM2970 1545h4v190h-4zM2984 1545h4v190h-4zM2997 1545h4v190h-4zM3011 1545h3v190h-3zM3024 1545h4v190h-4zM3038 1545h3v190h-3zM3051 1545h4v190h-4zM3064 1550h4v185h-4zM3078 1570h4v165h-4zM3091 1576h4v159h-4zM3105 1616h3v119h-3zM3118 1637h4v98h-4zM3132 1656h3v79h-3zM3145 1656h4v79h-4zM3158 1679h4v56h-4zM3172 1685h4v50h-4z"/>
<rect x="55.5" y="24.5" width="3129" height="1711" fill="none" stroke="#000" stroke-width="1"/>
</g>
<defs><filter id="cr" color-interpolation-filters="sRGB"><feComponentTransfer><feFuncA type="discrete" tableValues="0 0 0 1 1 1 1 1 1 1"/></feComponentTransfer></filter></defs>
<g>
<text class="m" x="1619.5" y="14.7">RBL Statistics - Fri Aug 29 13:01:44 EDT 2025 - All Data - Relayed through other SMTP servers</text>
<text class="m" transform="translate(10,880.5) rotate(-90)">Message Count or Spam Score</text>
<text class="e" x="50.5" y="27.3">1x10^{6}</text>
<text class="e" x="50.5" y="217.3">100000</text>
<text class="e" x="50.5" y="407.3">10000</text>
<text class="e" x="50.5" y="597.3">1000</text>
<text class="e" x="50.5" y="787.3">100</text>
<text class="e" x="50.5" y="978.3">10</text>
<text class="e" x="50.5" y="1168.3">1</text>
<text class="e" x="50.5" y="1358.3">0.1</text>
<text class="e" x="50.5" y="1548.3">0.01</text>
<text class="e" x="50.5" y="1738.3">0.001</text>
<text class="e" x="3131" y="56.3">Not Spam</text>
<text class="e" x="3131" y="78.3">Spam</text>
<text class="e" x="3131" y="100.3">Score (0..1)</text>
<text><tspan x="63" y="1746">9@</tspan><tspan x="58" y="1754">zen.</tspan><tspan x="46" y="1762">spamhaus.</tspan><tspan x="61" y="1770">org</tspan><tspan x="53" y="1778">2 hops</tspan></text>
<text><tspan x="77" y="1746">2@</tspan><tspan x="72" y="1754">zen.</tspan><tspan x="60" y="1762">spamhaus.</tspan><tspan x="75" y="1770">org</tspan><tspan x="70" y="1778">1 hop</tspan></text>
<text><tspan x="90" y="1746">9@</tspan><tspan x="85" y="1754">zen.</tspan><tspan x="73" y="1762">spamhaus.</tspan><tspan x="88" y="1770">org</tspan><tspan x="83" y="1778">1 hop</tspan></text>
<text><tspan x="104" y="1746">2@</tspan><tspan x="99" y="1754">zen.</tspan><tspan x="87" y="1762">spamhaus.</tspan><tspan x="102" y="1770">org</tspan><tspan x="94" y="1778">2 hops</tspan></text>
<text><tspan x="117" y="1746">2@</tspan><tspan x="112" y="1754">zen.</tspan><tspan x="100" y="1762">spamhaus.</tspan><tspan x="115" y="1770">org</tspan><tspan x="107" y="1778">3 hops</tspan></text>
<text><tspan x="131" y="1746">8@</tspan><tspan x="131" y="1754">Y.</tspan><tspan x="124" y="1762">list.</tspan><tspan x="121" y="1770">dnswl.</tspan><tspan x="129" y="1778">org</tspan><tspan x="121" y="1786">2 hops</tspan></text>
<text><tspan x="144" y="1746">2@</tspan><tspan x="139" y="1754">xbl.</tspan><tspan x="127" y="1762">spamhaus.</tspan><tspan x="142" y="1770">org</tspan><tspan x="137" y="1778">1 hop</tspan></text>
<text><tspan x="157" y="1746">2@</tspan><tspan x="147" y="1754">dnsbl.</tspan><tspan x="147" y="1762">sorbs.</tspan><tspan x="155" y="1770">net</tspan><tspan x="147" y="1778">3 hops</tspan></text>
<text><tspan x="171" y="1746">2@</tspan><tspan x="169" y="1754">bl.</tspan><tspan x="156" y="1762">spamcop.</tspan><tspan x="169" y="1770">net</tspan><tspan x="164" y="1778">1 hop</tspan></text>
<text><tspan x="184" y="1746">2@</tspan><tspan x="182" y="1754">bl.</tspan><tspan x="169" y="1762">spamcop.</tspan><tspan x="182" y="1770">net</tspan><tspan x="174" y="1778">5 hops</tspan></text>
<text><tspan x="198" y="1746">2@</tspan><tspan x="191" y="1754">psbl.</tspan><tspan x="183" y="1762">surriel.</tspan><tspan x="196" y="1770">com</tspan><tspan x="191" y="1778">1 hop</tspan></text>
<text><tspan x="211" y="1746">2@</tspan><tspan x="201" y="1754">dnsbl.</tspan><tspan x="201" y="1762">sorbs.</tspan><tspan x="209" y="1770">net</tspan><tspan x="201" y="1778">3 hops</tspan></text>
<text><tspan x="225" y="1746">4@</tspan><tspan x="220" y="1754">sbl.</tspan><tspan x="208" y="1762">spamhaus.</tspan><tspan x="223" y="1770">org</tspan><tspan x="215" y="1778">5 hops</tspan></text>
<text><tspan x="238" y="1746">2@</tspan><tspan x="236" y="1754">bl.</tspan><tspan x="223" y="1762">spamcop.</tspan><tspan x="236" y="1770">net</tspan><tspan x="231" y="1778">1 hop</tspan></text>
<text><tspan x="251" y="1746">3@</tspan><tspan x="251" y="1754">b.</tspan><tspan x="214" y="1762">barracudacentral.</tspan><tspan x="249" y="1770">org</tspan><tspan x="241" y="1778">3 hops</tspan></text>
<text><tspan x="265" y="1746">2@</tspan><tspan x="255" y="1754">dnsbl.</tspan><tspan x="255" y="1762">sorbs.</tspan><tspan x="263" y="1770">net</tspan><tspan x="255" y="1778">5 hops</tspan></text>
<text><tspan x="278" y="1746">4@</tspan><tspan x="273" y="1754">zen.</tspan><tspan x="261" y="1762">spamhaus.</tspan><tspan x="276" y="1770">org</tspan><tspan x="271" y="1778">1 hop</tspan></text>
<text><tspan x="292" y="1746">3@</tspan><tspan x="292" y="1754">b.</tspan><tspan x="255" y="1762">barracudacentral.</tspan><tspan x="290" y="1770">org</tspan><tspan x="282" y="1778">4 hops</tspan></text>
<text><tspan x="305" y="1746">8@</tspan><tspan x="305" y="1754">Y.</tspan><tspan x="298" y="1762">list.</tspan><tspan x="295" y="1770">dnswl.</tspan><tspan x="303" y="1778">org</tspan><tspan x="298" y="1786">1 hop</tspan></text>
<text><tspan x="319" y="1746">8@</tspan><tspan x="319" y="1754">2.</tspan><tspan x="312" y="1762">list.</tspan><tspan x="309" y="1770">dnswl.</tspan><tspan x="317" y="1778">org</tspan><tspan x="312" y="1786">1 hop</tspan></text>
<text><tspan x="332" y="1746">3@</tspan><tspan x="327" y="1754">zen.</tspan><tspan x="315" y="1762">spamhaus.</tspan><tspan x="330" y="1770">org</tspan><tspan x="325" y="1778">1 hop</tspan></text>
<text><tspan x="345" y="1746">2@</tspan><tspan x="343" y="1754">bl.</tspan><tspan x="330" y="1762">spamcop.</tspan><tspan x="343" y="1770">net</tspan><tspan x="338" y="1778">1 hop</tspan></text>
<text><tspan x="359" y="1746">2@</tspan><tspan x="349" y="1754">dnsbl.</tspan><tspan x="349" y="1762">sorbs.</tspan><tspan x="357" y="1770">net</tspan><tspan x="352" y="1778">1 hop</tspan></text>
<text><tspan x="372" y="1746">3@</tspan><tspan x="372" y="1754">b.</tspan><tspan x="335" y="1762">barracudacentral.</tspan><tspan x="370" y="1770">org</tspan><tspan x="362" y="1778">5 hops</tspan></text>
<text><tspan x="386" y="1746">4@</tspan><tspan x="381" y="1754">zen.</tspan><tspan x="369" y="1762">spamhaus.</tspan><tspan x="384" y="1770">org</tspan><tspan x="379" y="1778">1 hop</tspan></text>
<text><tspan x="399" y="1746">4@</tspan><tspan x="389" y="1754">dnsbl.</tspan><tspan x="384" y="1762">dronebl.</tspan><tspan x="397" y="1770">org</tspan><tspan x="389" y="1778">2 hops</tspan></text>
<text><tspan x="413" y="1746">2@</tspan><tspan x="411" y="1754">bl.</tspan><tspan x="398" y="1762">spamcop.</tspan><tspan x="411" y="1770">net</tspan><tspan x="406" y="1778">1 hop</tspan></text>
<text><tspan x="424" y="1746">10@</tspan><tspan x="421" y="1754">xbl.</tspan><tspan x="409" y="1762">spamhaus.</tspan><tspan x="424" y="1770">org</tspan><tspan x="416" y="1778">2 hops</tspan></text>
<text><tspan x="437" y="1746">15@</tspan><tspan x="439" y="1754">0.</tspan><tspan x="432" y="1762">list.</tspan><tspan x="429" y="1770">dnswl.</tspan><tspan x="437" y="1778">org</tspan><tspan x="432" y="1786">1 hop</tspan></text>
<text><tspan x="451" y="1746">15@</tspan><tspan x="453" y="1754">1.</tspan><tspan x="446" y="1762">list.</tspan><tspan x="443" y="1770">dnswl.</tspan><tspan x="451" y="1778">org</tspan><tspan x="446" y="1786">1 hop</tspan></text>
<text><tspan x="466" y="1746">2@</tspan><tspan x="451" y="1754">dnsbl-0.</tspan><tspan x="444" y="1762">uceprotect.</tspan><tspan x="464" y="1770">net</tspan><tspan x="456" y="1778">4 hops</tspan></text>
<text><tspan x="478" y="1746">11@</tspan><tspan x="480" y="1754">1.</tspan><tspan x="473" y="1762">list.</tspan><tspan x="470" y="1770">dnswl.</tspan><tspan x="478" y="1778">org</tspan><tspan x="473" y="1786">1 hop</tspan></text>
<text><tspan x="493" y="1746">6@</tspan><tspan x="493" y="1754">Y.</tspan><tspan x="486" y="1762">list.</tspan><tspan x="483" y="1770">dnswl.</tspan><tspan x="491" y="1778">org</tspan><tspan x="486" y="1786">1 hop</tspan></text>
<text><tspan x="505" y="1746">11@</tspan><tspan x="507" y="1754">1.</tspan><tspan x="500" y="1762">list.</tspan><tspan x="497" y="1770">dnswl.</tspan><tspan x="505" y="1778">org</tspan><tspan x="497" y="1786">2 hops</tspan></text>
<text><tspan x="520" y="1746">5@</tspan><tspan x="520" y="1754">2.</tspan><tspan x="513" y="1762">list.</tspan><tspan x="510" y="1770">dnswl.</tspan><tspan x="518" y="1778">org</tspan><tspan x="510" y="1786">5 hops</tspan></text>
<text><tspan x="533" y="1746">2@</tspan><tspan x="518" y="1754">dnsbl-0.</tspan><tspan x="511" y="1762">uceprotect.</tspan><tspan x="531" y="1770">net</tspan><tspan x="526" y="1778">1 hop</tspan></text>
<text><tspan x="545" y="1746">11@</tspan><tspan x="547" y="1754">0.</tspan><tspan x="540" y="1762">list.</tspan><tspan x="537" y="1770">dnswl.</tspan><tspan x="545" y="1778">org</tspan><tspan x="537" y="1786">2 hops</tspan></text>
<text><tspan x="560" y="1746">3@</tspan><tspan x="555" y="1754">zen.</tspan><tspan x="543" y="1762">spamhaus.</tspan><tspan x="558" y="1770">org</tspan><tspan x="550" y="1778">6 hops</tspan></text>
<text><tspan x="572" y="1746">11@</tspan><tspan x="569" y="1754">zen.</tspan><tspan x="557" y="1762">spamhaus.</tspan><tspan x="572" y="1770">org</tspan><tspan x="564" y="1778">2 hops</tspan></text>
<text><tspan x="587" y="1746">3@</tspan><tspan x="587" y="1754">1.</tspan><tspan x="580" y="1762">list.</tspan><tspan x="577" y="1770">dnswl.</tspan><tspan x="585" y="1778">org</tspan><tspan x="577" y="1786">4 hops</tspan></text>
<text><tspan x="599" y="1746">11@</tspan><tspan x="601" y="1754">1.</tspan><tspan x="594" y="1762">list.</tspan><tspan x="591" y="1770">dnswl.</tspan><tspan x="599" y="1778">org</tspan><tspan x="594" y="1786">1 hop</tspan></text>
<text><tspan x="614" y="1746">2@</tspan><tspan x="609" y="1754">pbl.</tspan><tspan x="597" y="1762">spamhaus.</tspan><tspan x="612" y="1770">org</tspan><tspan x="607" y="1778">1 hop</tspan></text>
<text><tspan x="627" y="1746">2@</tspan><tspan x="625" y="1754">db.</tspan><tspan x="620" y="1762">wpbl.</tspan><tspan x="622" y="1770">info</tspan><tspan x="617" y="1778">5 hops</tspan></text>
<text><tspan x="641" y="1746">2@</tspan><tspan x="639" y="1754">bl.</tspan><tspan x="626" y="1762">spamcop.</tspan><tspan x="639" y="1770">net</tspan><tspan x="634" y="1778">1 hop</tspan></text>
<text><tspan x="654" y="1746">2@</tspan><tspan x="652" y="1754">wl.</tspan><tspan x="634" y="1762">mailspike.</tspan><tspan x="652" y="1770">net</tspan><tspan x="644" y="1778">4 hops</tspan></text>
<text><tspan x="668" y="1746">2@</tspan><tspan x="653" y="1754">dnsbl-2.</tspan><tspan x="646" y="1762">uceprotect.</tspan><tspan x="666" y="1770">net</tspan><tspan x="661" y="1778">1 hop</tspan></text>
<text><tspan x="679" y="1746">11@</tspan><tspan x="681" y="1754">2.</tspan><tspan x="674" y="1762">list.</tspan><tspan x="671" y="1770">dnswl.</tspan><tspan x="679" y="1778">org</tspan><tspan x="674" y="1786">1 hop</tspan></text>
<text><tspan x="693" y="1746">11@</tspan><tspan x="685" y="1754">dnsbl.</tspan><tspan x="688" y="1762">mail.</tspan><tspan x="685" y="1770">sorbs.</tspan><tspan x="693" y="1778">net</tspan><tspan x="688" y="1786">1 hop</tspan></text>
<text><tspan x="708" y="1746">2@</tspan><tspan x="703" y="1754">ips.</tspan><tspan x="678" y="1762">backscatterer.</tspan><tspan x="706" y="1770">org</tspan><tspan x="698" y="1778">4 hops</tspan></text>
<text><tspan x="721" y="1746">2@</tspan><tspan x="716" y="1754">pbl.</tspan><tspan x="704" y="1762">spamhaus.</tspan><tspan x="719" y="1770">org</tspan><tspan x="711" y="1778">2 hops</tspan></text>
<text><tspan x="735" y="1746">3@</tspan><tspan x="735" y="1754">Y.</tspan><tspan x="728" y="1762">list.</tspan><tspan x="725" y="1770">dnswl.</tspan><tspan x="733" y="1778">org</tspan><tspan x="725" y="1786">5 hops</tspan></text>
<text><tspan x="748" y="1746">2@</tspan><tspan x="741" y="1754">psbl.</tspan><tspan x="733" y="1762">surriel.</tspan><tspan x="746" y="1770">com</tspan><tspan x="741" y="1778">1 hop</tspan></text>
<text><tspan x="760" y="1746">11@</tspan><tspan x="757" y="1754">zen.</tspan><tspan x="745" y="1762">spamhaus.</tspan><tspan x="760" y="1770">org</tspan><tspan x="752" y="1778">2 hops</tspan></text>
<text><tspan x="775" y="1746">4@</tspan><tspan x="775" y="1754">3.</tspan><tspan x="768" y="1762">list.</tspan><tspan x="765" y="1770">dnswl.</tspan><tspan x="773" y="1778">org</tspan><tspan x="768" y="1786">1 hop</tspan></text>
<text><tspan x="789" y="1746">2@</tspan><tspan x="784" y="1754">ips.</tspan><tspan x="759" y="1762">backscatterer.</tspan><tspan x="787" y="1770">org</tspan><tspan x="779" y="1778">3 hops</tspan></text>
<text><tspan x="802" y="1746">2@</tspan><tspan x="795" y="1754">list.</tspan><tspan x="792" y="1762">dnswl.</tspan><tspan x="800" y="1770">org</tspan><tspan x="792" y="1778">4 hops</tspan></text>
<text><tspan x="815" y="1746">4@</tspan><tspan x="815" y="1754">Y.</tspan><tspan x="808" y="1762">list.</tspan><tspan x="805" y="1770">dnswl.</tspan><tspan x="813" y="1778">org</tspan><tspan x="808" y="1786">1 hop</tspan></text>
<text><tspan x="829" y="1746">3@</tspan><tspan x="829" y="1754">0.</tspan><tspan x="822" y="1762">list.</tspan><tspan x="819" y="1770">dnswl.</tspan><tspan x="827" y="1778">org</tspan><tspan x="822" y="1786">1 hop</tspan></text>
<text><tspan x="842" y="1746">4@</tspan><tspan x="842" y="1754">2.</tspan><tspan x="835" y="1762">list.</tspan><tspan x="832" y="1770">dnswl.</tspan><tspan x="840" y="1778">org</tspan><tspan x="832" y="1786">2 hops</tspan></text>
<text><tspan x="856" y="1746">2@</tspan><tspan x="856" y="1754">2.</tspan><tspan x="849" y="1762">list.</tspan><tspan x="846" y="1770">dnswl.</tspan><tspan x="854" y="1778">org</tspan><tspan x="846" y="1786">2 hops</tspan></text>
<text><tspan x="869" y="1746">2@</tspan><tspan x="859" y="1754">dnsbl.</tspan><tspan x="862" y="1762">mail.</tspan><tspan x="859" y="1770">sorbs.</tspan><tspan x="867" y="1778">net</tspan><tspan x="859" y="1786">2 hops</tspan></text>
<text><tspan x="883" y="1746">2@</tspan><tspan x="873" y="1754">dnsbl.</tspan><tspan x="873" y="1762">sorbs.</tspan><tspan x="881" y="1770">net</tspan><tspan x="873" y="1778">3 hops</tspan></text>
<text><tspan x="896" y="1746">6@</tspan><tspan x="891" y="1754">ubl.</tspan><tspan x="874" y="1762">unsubscore.</tspan><tspan x="894" y="1770">com</tspan><tspan x="886" y="1778">3 hops</tspan></text>
<text><tspan x="909" y="1746">6@</tspan><tspan x="904" y="1754">new.</tspan><tspan x="902" y="1762">spam.</tspan><tspan x="899" y="1770">dnsbl.</tspan><tspan x="899" y="1778">sorbs.</tspan><tspan x="907" y="1786">net</tspan><tspan x="902" y="1794">1 hop</tspan></text>
<text><tspan x="923" y="1746">6@</tspan><tspan x="911" y="1754">recent.</tspan><tspan x="916" y="1762">spam.</tspan><tspan x="913" y="1770">dnsbl.</tspan><tspan x="913" y="1778">sorbs.</tspan><tspan x="921" y="1786">net</tspan><tspan x="916" y="1794">1 hop</tspan></text>
<text><tspan x="936" y="1746">6@</tspan><tspan x="931" y="1754">old.</tspan><tspan x="929" y="1762">spam.</tspan><tspan x="926" y="1770">dnsbl.</tspan><tspan x="926" y="1778">sorbs.</tspan><tspan x="934" y="1786">net</tspan><tspan x="929" y="1794">1 hop</tspan></text>
<text><tspan x="950" y="1746">6@</tspan><tspan x="943" y="1754">spam.</tspan><tspan x="933" y="1762">spamrats.</tspan><tspan x="948" y="1770">com</tspan><tspan x="940" y="1778">3 hops</tspan></text>
<text><tspan x="961" y="1746">15@</tspan><tspan x="963" y="1754">1.</tspan><tspan x="956" y="1762">list.</tspan><tspan x="953" y="1770">dnswl.</tspan><tspan x="961" y="1778">org</tspan><tspan x="953" y="1786">3 hops</tspan></text>
<text><tspan x="975" y="1746">15@</tspan><tspan x="977" y="1754">Y.</tspan><tspan x="970" y="1762">list.</tspan><tspan x="967" y="1770">dnswl.</tspan><tspan x="975" y="1778">org</tspan><tspan x="967" y="1786">4 hops</tspan></text>
<text><tspan x="988" y="1746">15@</tspan><tspan x="990" y="1754">0.</tspan><tspan x="983" y="1762">list.</tspan><tspan x="980" y="1770">dnswl.</tspan><tspan x="988" y="1778">org</tspan><tspan x="980" y="1786">6 hops</tspan></text>
<text><tspan x="1001" y="1746">15@</tspan><tspan x="1003" y="1754">1.</tspan><tspan x="996" y="1762">list.</tspan><tspan x="993" y="1770">dnswl.</tspan><tspan x="1001" y="1778">org</tspan><tspan x="996" y="1786">1 hop</tspan></text>
<text><tspan x="1017" y="1746">2@</tspan><tspan x="1015" y="1754">bl.</tspan><tspan x="1002" y="1762">spamcop.</tspan><tspan x="1015" y="1770">net</tspan><tspan x="1010" y="1778">1 hop</tspan></text>
<text><tspan x="1025" y="1746">none</tspan><tspan x="1023" y="1754">1 hop</tspan></text>
<text><tspan x="1042" y="1746">20@</tspan><tspan x="1044" y="1754">0.</tspan><tspan x="1037" y="1762">list.</tspan><tspan x="1034" y="1770">dnswl.</tspan><tspan x="1042" y="1778">org</tspan><tspan x="1037" y="1786">1 hop</tspan></text>
<text><tspan x="1055" y="1746">20@</tspan><tspan x="1057" y="1754">Y.</tspan><tspan x="1050" y="1762">list.</tspan><tspan x="1047" y="1770">dnswl.</tspan><tspan x="1055" y="1778">org</tspan><tspan x="1050" y="1786">1 hop</tspan></text>
<text><tspan x="1069" y="1746">10@</tspan><tspan x="1066" y="1754">zen.</tspan><tspan x="1054" y="1762">spamhaus.</tspan><tspan x="1069" y="1770">org</tspan><tspan x="1061" y="1778">4 hops</tspan></text>
<text><tspan x="1082" y="1746">10@</tspan><tspan x="1084" y="1754">0.</tspan><tspan x="1077" y="1762">list.</tspan><tspan x="1074" y="1770">dnswl.</tspan><tspan x="1082" y="1778">org</tspan><tspan x="1077" y="1786">1 hop</tspan></text>
<text><tspan x="1097" y="1746">5@</tspan><tspan x="1097" y="1754">0.</tspan><tspan x="1090" y="1762">list.</tspan><tspan x="1087" y="1770">dnswl.</tspan><tspan x="1095" y="1778">org</tspan><tspan x="1090" y="1786">1 hop</tspan></text>
<text><tspan x="1109" y="1746">10@</tspan><tspan x="1111" y="1754">Y.</tspan><tspan x="1104" y="1762">list.</tspan><tspan x="1101" y="1770">dnswl.</tspan><tspan x="1109" y="1778">org</tspan><tspan x="1101" y="1786">4 hops</tspan></text>
<text><tspan x="1124" y="1746">9@</tspan><tspan x="1124" y="1754">2.</tspan><tspan x="1117" y="1762">list.</tspan><tspan x="1114" y="1770">dnswl.</tspan><tspan x="1122" y="1778">org</tspan><tspan x="1114" y="1786">2 hops</tspan></text>
<text><tspan x="1136" y="1746">11@</tspan><tspan x="1138" y="1754">Y.</tspan><tspan x="1131" y="1762">list.</tspan><tspan x="1128" y="1770">dnswl.</tspan><tspan x="1136" y="1778">org</tspan><tspan x="1128" y="1786">2 hops</tspan></text>
<text><tspan x="1151" y="1746">2@</tspan><tspan x="1146" y="1754">ips.</tspan><tspan x="1121" y="1762">backscatterer.</tspan><tspan x="1149" y="1770">org</tspan><tspan x="1141" y="1778">3 hops</tspan></text>
<text><tspan x="1160" y="1746">none</tspan><tspan x="1155" y="1754">5 hops</tspan></text>
<text><tspan x="1178" y="1746">5@</tspan><tspan x="1178" y="1754">0.</tspan><tspan x="1171" y="1762">list.</tspan><tspan x="1168" y="1770">dnswl.</tspan><tspan x="1176" y="1778">org</tspan><tspan x="1168" y="1786">4 hops</tspan></text>
<text><tspan x="1191" y="1746">9@</tspan><tspan x="1191" y="1754">Y.</tspan><tspan x="1184" y="1762">list.</tspan><tspan x="1181" y="1770">dnswl.</tspan><tspan x="1189" y="1778">org</tspan><tspan x="1184" y="1786">1 hop</tspan></text>
<text><tspan x="1205" y="1746">3@</tspan><tspan x="1205" y="1754">Y.</tspan><tspan x="1198" y="1762">list.</tspan><tspan x="1195" y="1770">dnswl.</tspan><tspan x="1203" y="1778">org</tspan><tspan x="1195" y="1786">4 hops</tspan></text>
<text><tspan x="1218" y="1746">1@</tspan><tspan x="1211" y="1754">list.</tspan><tspan x="1208" y="1762">dnswl.</tspan><tspan x="1216" y="1770">org</tspan><tspan x="1211" y="1778">1 hop</tspan></text>
<text><tspan x="1227" y="1746">none</tspan><tspan x="1222" y="1754">4 hops</tspan></text>
<text><tspan x="1245" y="1746">0@</tspan><tspan x="1238" y="1754">list.</tspan><tspan x="1235" y="1762">dnswl.</tspan><tspan x="1243" y="1770">org</tspan><tspan x="1238" y="1778">1 hop</tspan></text>
<text><tspan x="1259" y="1746">5@</tspan><tspan x="1259" y="1754">1.</tspan><tspan x="1252" y="1762">list.</tspan><tspan x="1249" y="1770">dnswl.</tspan><tspan x="1257" y="1778">org</tspan><tspan x="1249" y="1786">3 hops</tspan></text>
<text><tspan x="1270" y="1746">11@</tspan><tspan x="1272" y="1754">2.</tspan><tspan x="1265" y="1762">list.</tspan><tspan x="1262" y="1770">dnswl.</tspan><tspan x="1270" y="1778">org</tspan><tspan x="1262" y="1786">2 hops</tspan></text>
<text><tspan x="1283" y="1746">10@</tspan><tspan x="1280" y="1754">zen.</tspan><tspan x="1268" y="1762">spamhaus.</tspan><tspan x="1283" y="1770">org</tspan><tspan x="1275" y="1778">2 hops</tspan></text>
<text><tspan x="1299" y="1746">2@</tspan><tspan x="1294" y="1754">ips.</tspan><tspan x="1269" y="1762">backscatterer.</tspan><tspan x="1297" y="1770">org</tspan><tspan x="1289" y="1778">3 hops</tspan></text>
<text><tspan x="1310" y="1746">11@</tspan><tspan x="1307" y="1754">zen.</tspan><tspan x="1295" y="1762">spamhaus.</tspan><tspan x="1310" y="1770">org</tspan><tspan x="1302" y="1778">2 hops</tspan></text>
<text><tspan x="1326" y="1746">5@</tspan><tspan x="1326" y="1754">Y.</tspan><tspan x="1319" y="1762">list.</tspan><tspan x="1316" y="1770">dnswl.</tspan><tspan x="1324" y="1778">org</tspan><tspan x="1319" y="1786">1 hop</tspan></text>
<text><tspan x="1334" y="1746">none</tspan><tspan x="1329" y="1754">3 hops</tspan></text>
<text><tspan x="1353" y="1746">2@</tspan><tspan x="1348" y="1754">ips.</tspan><tspan x="1323" y="1762">backscatterer.</tspan><tspan x="1351" y="1770">org</tspan><tspan x="1343" y="1778">3 hops</tspan></text>
<text><tspan x="1366" y="1746">3@</tspan><tspan x="1366" y="1754">1.</tspan><tspan x="1359" y="1762">list.</tspan><tspan x="1356" y="1770">dnswl.</tspan><tspan x="1364" y="1778">org</tspan><tspan x="1359" y="1786">1 hop</tspan></text>
<text><tspan x="1379" y="1746">5@</tspan><tspan x="1379" y="1754">1.</tspan><tspan x="1372" y="1762">list.</tspan><tspan x="1369" y="1770">dnswl.</tspan><tspan x="1377" y="1778">org</tspan><tspan x="1372" y="1786">1 hop</tspan></text>
<text><tspan x="1393" y="1746">3@</tspan><tspan x="1386" y="1754">list.</tspan><tspan x="1383" y="1762">dnswl.</tspan><tspan x="1391" y="1770">org</tspan><tspan x="1383" y="1778">3 hops</tspan></text>
<text><tspan x="1406" y="1746">1@</tspan><tspan x="1399" y="1754">list.</tspan><tspan x="1396" y="1762">dnswl.</tspan><tspan x="1404" y="1770">org</tspan><tspan x="1396" y="1778">2 hops</tspan></text>
<text><tspan x="1418" y="1746">14@</tspan><tspan x="1420" y="1754">2.</tspan><tspan x="1413" y="1762">list.</tspan><tspan x="1410" y="1770">dnswl.</tspan><tspan x="1418" y="1778">org</tspan><tspan x="1410" y="1786">2 hops</tspan></text>
<text><tspan x="1433" y="1746">5@</tspan><tspan x="1433" y="1754">0.</tspan><tspan x="1426" y="1762">list.</tspan><tspan x="1423" y="1770">dnswl.</tspan><tspan x="1431" y="1778">org</tspan><tspan x="1423" y="1786">5 hops</tspan></text>
<text><tspan x="1447" y="1746">5@</tspan><tspan x="1447" y="1754">1.</tspan><tspan x="1440" y="1762">list.</tspan><tspan x="1437" y="1770">dnswl.</tspan><tspan x="1445" y="1778">org</tspan><tspan x="1440" y="1786">1 hop</tspan></text>
<text><tspan x="1455" y="1746">none</tspan><tspan x="1450" y="1754">2 hops</tspan></text>
<text><tspan x="1471" y="1746">14@</tspan><tspan x="1473" y="1754">Y.</tspan><tspan x="1466" y="1762">list.</tspan><tspan x="1463" y="1770">dnswl.</tspan><tspan x="1471" y="1778">org</tspan><tspan x="1466" y="1786">1 hop</tspan></text>
<text><tspan x="1485" y="1746">11@</tspan><tspan x="1482" y="1754">zen.</tspan><tspan x="1470" y="1762">spamhaus.</tspan><tspan x="1485" y="1770">org</tspan><tspan x="1477" y="1778">3 hops</tspan></text>
<text><tspan x="1498" y="1746">11@</tspan><tspan x="1495" y="1754">zen.</tspan><tspan x="1483" y="1762">spamhaus.</tspan><tspan x="1498" y="1770">org</tspan><tspan x="1490" y="1778">4 hops</tspan></text>
<text><tspan x="1514" y="1746">3@</tspan><tspan x="1514" y="1754">1.</tspan><tspan x="1507" y="1762">list.</tspan><tspan x="1504" y="1770">dnswl.</tspan><tspan x="1512" y="1778">org</tspan><tspan x="1507" y="1786">1 hop</tspan></text>
<text><tspan x="1527" y="1746">1@</tspan><tspan x="1520" y="1754">list.</tspan><tspan x="1517" y="1762">dnswl.</tspan><tspan x="1525" y="1770">org</tspan><tspan x="1517" y="1778">4 hops</tspan></text>
<text><tspan x="1539" y="1746">11@</tspan><tspan x="1541" y="1754">Y.</tspan><tspan x="1534" y="1762">list.</tspan><tspan x="1531" y="1770">dnswl.</tspan><tspan x="1539" y="1778">org</tspan><tspan x="1531" y="1786">3 hops</tspan></text>
<text><tspan x="1552" y="1746">15@</tspan><tspan x="1554" y="1754">0.</tspan><tspan x="1547" y="1762">list.</tspan><tspan x="1544" y="1770">dnswl.</tspan><tspan x="1552" y="1778">org</tspan><tspan x="1544" y="1786">3 hops</tspan></text>
<text><tspan x="1567" y="1746">5@</tspan><tspan x="1567" y="1754">2.</tspan><tspan x="1560" y="1762">list.</tspan><tspan x="1557" y="1770">dnswl.</tspan><tspan x="1565" y="1778">org</tspan><tspan x="1557" y="1786">2 hops</tspan></text>
<text><tspan x="1579" y="1746">15@</tspan><tspan x="1581" y="1754">Y.</tspan><tspan x="1574" y="1762">list.</tspan><tspan x="1571" y="1770">dnswl.</tspan><tspan x="1579" y="1778">org</tspan><tspan x="1571" y="1786">3 hops</tspan></text>
<text><tspan x="1592" y="1746">11@</tspan><tspan x="1589" y="1754">zen.</tspan><tspan x="1577" y="1762">spamhaus.</tspan><tspan x="1592" y="1770">org</tspan><tspan x="1584" y="1778">2 hops</tspan></text>
<text><tspan x="1606" y="1746">10@</tspan><tspan x="1608" y="1754">1.</tspan><tspan x="1601" y="1762">list.</tspan><tspan x="1598" y="1770">dnswl.</tspan><tspan x="1606" y="1778">org</tspan><tspan x="1598" y="1786">5 hops</tspan></text>
<text><tspan x="1621" y="1746">5@</tspan><tspan x="1621" y="1754">Y.</tspan><tspan x="1614" y="1762">list.</tspan><tspan x="1611" y="1770">dnswl.</tspan><tspan x="1619" y="1778">org</tspan><tspan x="1611" y="1786">2 hops</tspan></text>
<text><tspan x="1633" y="1746">13@</tspan><tspan x="1635" y="1754">2.</tspan><tspan x="1628" y="1762">list.</tspan><tspan x="1625" y="1770">dnswl.</tspan><tspan x="1633" y="1778">org</tspan><tspan x="1625" y="1786">5 hops</tspan></text>
<text><tspan x="1648" y="1746">6@</tspan><tspan x="1648" y="1754">Y.</tspan><tspan x="1641" y="1762">list.</tspan><tspan x="1638" y="1770">dnswl.</tspan><tspan x="1646" y="1778">org</tspan><tspan x="1638" y="1786">3 hops</tspan></text>
<text><tspan x="1662" y="1746">5@</tspan><tspan x="1662" y="1754">2.</tspan><tspan x="1655" y="1762">list.</tspan><tspan x="1652" y="1770">dnswl.</tspan><tspan x="1660" y="1778">org</tspan><tspan x="1655" y="1786">1 hop</tspan></text>
<text><tspan x="1675" y="1746">3@</tspan><tspan x="1675" y="1754">0.</tspan><tspan x="1668" y="1762">list.</tspan><tspan x="1665" y="1770">dnswl.</tspan><tspan x="1673" y="1778">org</tspan><tspan x="1665" y="1786">2 hops</tspan></text>
<text><tspan x="1688" y="1746">3@</tspan><tspan x="1688" y="1754">Y.</tspan><tspan x="1681" y="1762">list.</tspan><tspan x="1678" y="1770">dnswl.</tspan><tspan x="1686" y="1778">org</tspan><tspan x="1678" y="1786">7 hops</tspan></text>
<text><tspan x="1702" y="1746">6@</tspan><tspan x="1695" y="1754">list.</tspan><tspan x="1692" y="1762">dnswl.</tspan><tspan x="1700" y="1770">org</tspan><tspan x="1692" y="1778">2 hops</tspan></text>
<text><tspan x="1715" y="1746">0@</tspan><tspan x="1710" y="1754">zen.</tspan><tspan x="1698" y="1762">spamhaus.</tspan><tspan x="1713" y="1770">org</tspan><tspan x="1705" y="1778">5 hops</tspan></text>
<text><tspan x="1727" y="1746">10@</tspan><tspan x="1729" y="1754">0.</tspan><tspan x="1722" y="1762">list.</tspan><tspan x="1719" y="1770">dnswl.</tspan><tspan x="1727" y="1778">org</tspan><tspan x="1719" y="1786">2 hops</tspan></text>
<text><tspan x="1742" y="1746">5@</tspan><tspan x="1735" y="1754">list.</tspan><tspan x="1732" y="1762">dnswl.</tspan><tspan x="1740" y="1770">org</tspan><tspan x="1735" y="1778">1 hop</tspan></text>
<text><tspan x="1756" y="1746">1@</tspan><tspan x="1756" y="1754">Y.</tspan><tspan x="1749" y="1762">list.</tspan><tspan x="1746" y="1770">dnswl.</tspan><tspan x="1754" y="1778">org</tspan><tspan x="1746" y="1786">7 hops</tspan></text>
<text><tspan x="1769" y="1746">3@</tspan><tspan x="1769" y="1754">Y.</tspan><tspan x="1762" y="1762">list.</tspan><tspan x="1759" y="1770">dnswl.</tspan><tspan x="1767" y="1778">org</tspan><tspan x="1759" y="1786">3 hops</tspan></text>
<text><tspan x="1782" y="1746">3@</tspan><tspan x="1775" y="1754">psbl.</tspan><tspan x="1767" y="1762">surriel.</tspan><tspan x="1780" y="1770">com</tspan><tspan x="1775" y="1778">1 hop</tspan></text>
<text><tspan x="1796" y="1746">2@</tspan><tspan x="1796" y="1754">2.</tspan><tspan x="1789" y="1762">list.</tspan><tspan x="1786" y="1770">dnswl.</tspan><tspan x="1794" y="1778">org</tspan><tspan x="1786" y="1786">2 hops</tspan></text>
<text><tspan x="1807" y="1746">14@</tspan><tspan x="1809" y="1754">0.</tspan><tspan x="1802" y="1762">list.</tspan><tspan x="1799" y="1770">dnswl.</tspan><tspan x="1807" y="1778">org</tspan><tspan x="1799" y="1786">5 hops</tspan></text>
<text><tspan x="1823" y="1746">3@</tspan><tspan x="1816" y="1754">list.</tspan><tspan x="1813" y="1762">dnswl.</tspan><tspan x="1821" y="1770">org</tspan><tspan x="1813" y="1778">5 hops</tspan></text>
<text><tspan x="1836" y="1746">0@</tspan><tspan x="1836" y="1754">Y.</tspan><tspan x="1829" y="1762">list.</tspan><tspan x="1826" y="1770">dnswl.</tspan><tspan x="1834" y="1778">org</tspan><tspan x="1826" y="1786">2 hops</tspan></text>
<text><tspan x="1848" y="1746">14@</tspan><tspan x="1850" y="1754">3.</tspan><tspan x="1843" y="1762">list.</tspan><tspan x="1840" y="1770">dnswl.</tspan><tspan x="1848" y="1778">org</tspan><tspan x="1840" y="1786">3 hops</tspan></text>
<text><tspan x="1863" y="1746">9@</tspan><tspan x="1863" y="1754">Y.</tspan><tspan x="1856" y="1762">list.</tspan><tspan x="1853" y="1770">dnswl.</tspan><tspan x="1861" y="1778">org</tspan><tspan x="1853" y="1786">2 hops</tspan></text>
<text><tspan x="1876" y="1746">5@</tspan><tspan x="1869" y="1754">list.</tspan><tspan x="1866" y="1762">dnswl.</tspan><tspan x="1874" y="1770">org</tspan><tspan x="1866" y="1778">7 hops</tspan></text>
<text><tspan x="1890" y="1746">2@</tspan><tspan x="1883" y="1754">list.</tspan><tspan x="1880" y="1762">dnswl.</tspan><tspan x="1888" y="1770">org</tspan><tspan x="1880" y="1778">5 hops</tspan></text>
<text><tspan x="1903" y="1746">0@</tspan><tspan x="1903" y="1754">2.</tspan><tspan x="1896" y="1762">list.</tspan><tspan x="1893" y="1770">dnswl.</tspan><tspan x="1901" y="1778">org</tspan><tspan x="1896" y="1786">1 hop</tspan></text>
<text><tspan x="1917" y="1746">6@</tspan><tspan x="1917" y="1754">2.</tspan><tspan x="1910" y="1762">list.</tspan><tspan x="1907" y="1770">dnswl.</tspan><tspan x="1915" y="1778">org</tspan><tspan x="1907" y="1786">2 hops</tspan></text>
<text><tspan x="1930" y="1746">9@</tspan><tspan x="1930" y="1754">Y.</tspan><tspan x="1923" y="1762">list.</tspan><tspan x="1920" y="1770">dnswl.</tspan><tspan x="1928" y="1778">org</tspan><tspan x="1920" y="1786">2 hops</tspan></text>
<text><tspan x="1944" y="1746">9@</tspan><tspan x="1944" y="1754">Y.</tspan><tspan x="1937" y="1762">list.</tspan><tspan x="1934" y="1770">dnswl.</tspan><tspan x="1942" y="1778">org</tspan><tspan x="1934" y="1786">3 hops</tspan></text>
<text><tspan x="1957" y="1746">6@</tspan><tspan x="1957" y="1754">0.</tspan><tspan x="1950" y="1762">list.</tspan><tspan x="1947" y="1770">dnswl.</tspan><tspan x="1955" y="1778">org</tspan><tspan x="1947" y="1786">3 hops</tspan></text>
<text><tspan x="1970" y="1746">5@</tspan><tspan x="1970" y="1754">1.</tspan><tspan x="1963" y="1762">list.</tspan><tspan x="1960" y="1770">dnswl.</tspan><tspan x="1968" y="1778">org</tspan><tspan x="1960" y="1786">3 hops</tspan></text>
<text><tspan x="1984" y="1746">3@</tspan><tspan x="1984" y="1754">1.</tspan><tspan x="1977" y="1762">list.</tspan><tspan x="1974" y="1770">dnswl.</tspan><tspan x="1982" y="1778">org</tspan><tspan x="1974" y="1786">2 hops</tspan></text>
<text><tspan x="1997" y="1746">9@</tspan><tspan x="1997" y="1754">1.</tspan><tspan x="1990" y="1762">list.</tspan><tspan x="1987" y="1770">dnswl.</tspan><tspan x="1995" y="1778">org</tspan><tspan x="1990" y="1786">1 hop</tspan></text>
<text><tspan x="2011" y="1746">9@</tspan><tspan x="2011" y="1754">0.</tspan><tspan x="2004" y="1762">list.</tspan><tspan x="2001" y="1770">dnswl.</tspan><tspan x="2009" y="1778">org</tspan><tspan x="2001" y="1786">2 hops</tspan></text>
<text><tspan x="2024" y="1746">2@</tspan><tspan x="2019" y="1754">ips.</tspan><tspan x="1994" y="1762">backscatterer.</tspan><tspan x="2022" y="1770">org</tspan><tspan x="2014" y="1778">2 hops</tspan></text>
<text><tspan x="2038" y="1746">2@</tspan><tspan x="2031" y="1754">list.</tspan><tspan x="2028" y="1762">dnswl.</tspan><tspan x="2036" y="1770">org</tspan><tspan x="2028" y="1778">5 hops</tspan></text>
<text><tspan x="2051" y="1746">3@</tspan><tspan x="2051" y="1754">Y.</tspan><tspan x="2044" y="1762">list.</tspan><tspan x="2041" y="1770">dnswl.</tspan><tspan x="2049" y="1778">org</tspan><tspan x="2044" y="1786">1 hop</tspan></text>
<text><tspan x="2064" y="1746">3@</tspan><tspan x="2064" y="1754">2.</tspan><tspan x="2057" y="1762">list.</tspan><tspan x="2054" y="1770">dnswl.</tspan><tspan x="2062" y="1778">org</tspan><tspan x="2054" y="1786">3 hops</tspan></text>
<text><tspan x="2078" y="1746">4@</tspan><tspan x="2078" y="1754">Y.</tspan><tspan x="2071" y="1762">list.</tspan><tspan x="2068" y="1770">dnswl.</tspan><tspan x="2076" y="1778">org</tspan><tspan x="2071" y="1786">1 hop</tspan></text>
<text><tspan x="2089" y="1746">15@</tspan><tspan x="2091" y="1754">Y.</tspan><tspan x="2084" y="1762">list.</tspan><tspan x="2081" y="1770">dnswl.</tspan><tspan x="2089" y="1778">org</tspan><tspan x="2081" y="1786">7 hops</tspan></text>
<text><tspan x="2105" y="1746">4@</tspan><tspan x="2105" y="1754">2.</tspan><tspan x="2098" y="1762">list.</tspan><tspan x="2095" y="1770">dnswl.</tspan><tspan x="2103" y="1778">org</tspan><tspan x="2095" y="1786">2 hops</tspan></text>
<text><tspan x="2116" y="1746">15@</tspan><tspan x="2118" y="1754">2.</tspan><tspan x="2111" y="1762">list.</tspan><tspan x="2108" y="1770">dnswl.</tspan><tspan x="2116" y="1778">org</tspan><tspan x="2108" y="1786">4 hops</tspan></text>
<text><tspan x="2130" y="1746">13@</tspan><tspan x="2132" y="1754">Y.</tspan><tspan x="2125" y="1762">list.</tspan><tspan x="2122" y="1770">dnswl.</tspan><tspan x="2130" y="1778">org</tspan><tspan x="2122" y="1786">5 hops</tspan></text>
<text><tspan x="2143" y="1746">13@</tspan><tspan x="2145" y="1754">2.</tspan><tspan x="2138" y="1762">list.</tspan><tspan x="2135" y="1770">dnswl.</tspan><tspan x="2143" y="1778">org</tspan><tspan x="2135" y="1786">2 hops</tspan></text>
<text><tspan x="2158" y="1746">9@</tspan><tspan x="2158" y="1754">0.</tspan><tspan x="2151" y="1762">list.</tspan><tspan x="2148" y="1770">dnswl.</tspan><tspan x="2156" y="1778">org</tspan><tspan x="2148" y="1786">7 hops</tspan></text>
<text><tspan x="2170" y="1746">10@</tspan><tspan x="2172" y="1754">0.</tspan><tspan x="2165" y="1762">list.</tspan><tspan x="2162" y="1770">dnswl.</tspan><tspan x="2170" y="1778">org</tspan><tspan x="2162" y="1786">2 hops</tspan></text>
<text><tspan x="2183" y="1746">10@</tspan><tspan x="2185" y="1754">Y.</tspan><tspan x="2178" y="1762">list.</tspan><tspan x="2175" y="1770">dnswl.</tspan><tspan x="2183" y="1778">org</tspan><tspan x="2175" y="1786">2 hops</tspan></text>
<text><tspan x="2199" y="1746">2@</tspan><tspan x="2194" y="1754">ips.</tspan><tspan x="2169" y="1762">backscatterer.</tspan><tspan x="2197" y="1770">org</tspan><tspan x="2189" y="1778">4 hops</tspan></text>
<text><tspan x="2212" y="1746">2@</tspan><tspan x="2207" y="1754">ips.</tspan><tspan x="2182" y="1762">backscatterer.</tspan><tspan x="2210" y="1770">org</tspan><tspan x="2202" y="1778">7 hops</tspan></text>
<text><tspan x="2224" y="1746">15@</tspan><tspan x="2226" y="1754">2.</tspan><tspan x="2219" y="1762">list.</tspan><tspan x="2216" y="1770">dnswl.</tspan><tspan x="2224" y="1778">org</tspan><tspan x="2216" y="1786">3 hops</tspan></text>
<text><tspan x="2237" y="1746">11@</tspan><tspan x="2234" y="1754">zen.</tspan><tspan x="2222" y="1762">spamhaus.</tspan><tspan x="2237" y="1770">org</tspan><tspan x="2229" y="1778">2 hops</tspan></text>
<text><tspan x="2252" y="1746">9@</tspan><tspan x="2252" y="1754">0.</tspan><tspan x="2245" y="1762">list.</tspan><tspan x="2242" y="1770">dnswl.</tspan><tspan x="2250" y="1778">org</tspan><tspan x="2242" y="1786">2 hops</tspan></text>
<text><tspan x="2266" y="1746">9@</tspan><tspan x="2266" y="1754">1.</tspan><tspan x="2259" y="1762">list.</tspan><tspan x="2256" y="1770">dnswl.</tspan><tspan x="2264" y="1778">org</tspan><tspan x="2256" y="1786">2 hops</tspan></text>
<text><tspan x="2277" y="1746">13@</tspan><tspan x="2279" y="1754">2.</tspan><tspan x="2272" y="1762">list.</tspan><tspan x="2269" y="1770">dnswl.</tspan><tspan x="2277" y="1778">org</tspan><tspan x="2269" y="1786">2 hops</tspan></text>
<text><tspan x="2293" y="1746">5@</tspan><tspan x="2293" y="1754">2.</tspan><tspan x="2286" y="1762">list.</tspan><tspan x="2283" y="1770">dnswl.</tspan><tspan x="2291" y="1778">org</tspan><tspan x="2283" y="1786">3 hops</tspan></text>
<text><tspan x="2304" y="1746">11@</tspan><tspan x="2306" y="1754">2.</tspan><tspan x="2299" y="1762">list.</tspan><tspan x="2296" y="1770">dnswl.</tspan><tspan x="2304" y="1778">org</tspan><tspan x="2296" y="1786">3 hops</tspan></text>
<text><tspan x="2318" y="1746">11@</tspan><tspan x="2315" y="1754">zen.</tspan><tspan x="2303" y="1762">spamhaus.</tspan><tspan x="2318" y="1770">org</tspan><tspan x="2310" y="1778">5 hops</tspan></text>
<text><tspan x="2333" y="1746">6@</tspan><tspan x="2333" y="1754">1.</tspan><tspan x="2326" y="1762">list.</tspan><tspan x="2323" y="1770">dnswl.</tspan><tspan x="2331" y="1778">org</tspan><tspan x="2323" y="1786">2 hops</tspan></text>
<text><tspan x="2344" y="1746">11@</tspan><tspan x="2341" y="1754">zen.</tspan><tspan x="2329" y="1762">spamhaus.</tspan><tspan x="2344" y="1770">org</tspan><tspan x="2336" y="1778">7 hops</tspan></text>
<text><tspan x="2360" y="1746">6@</tspan><tspan x="2360" y="1754">1.</tspan><tspan x="2353" y="1762">list.</tspan><tspan x="2350" y="1770">dnswl.</tspan><tspan x="2358" y="1778">org</tspan><tspan x="2350" y="1786">2 hops</tspan></text>
<text><tspan x="2371" y="1746">20@</tspan><tspan x="2373" y="1754">0.</tspan><tspan x="2366" y="1762">list.</tspan><tspan x="2363" y="1770">dnswl.</tspan><tspan x="2371" y="1778">org</tspan><tspan x="2363" y="1786">2 hops</tspan></text>
<text><tspan x="2385" y="1746">20@</tspan><tspan x="2387" y="1754">Y.</tspan><tspan x="2380" y="1762">list.</tspan><tspan x="2377" y="1770">dnswl.</tspan><tspan x="2385" y="1778">org</tspan><tspan x="2380" y="1786">1 hop</tspan></text>
<text><tspan x="2400" y="1746">2@</tspan><tspan x="2393" y="1754">list.</tspan><tspan x="2390" y="1762">dnswl.</tspan><tspan x="2398" y="1770">org</tspan><tspan x="2390" y="1778">2 hops</tspan></text>
<text><tspan x="2414" y="1746">6@</tspan><tspan x="2414" y="1754">0.</tspan><tspan x="2407" y="1762">list.</tspan><tspan x="2404" y="1770">dnswl.</tspan><tspan x="2412" y="1778">org</tspan><tspan x="2404" y="1786">3 hops</tspan></text>
<text><tspan x="2427" y="1746">9@</tspan><tspan x="2427" y="1754">Y.</tspan><tspan x="2420" y="1762">list.</tspan><tspan x="2417" y="1770">dnswl.</tspan><tspan x="2425" y="1778">org</tspan><tspan x="2417" y="1786">6 hops</tspan></text>
<text><tspan x="2440" y="1746">6@</tspan><tspan x="2440" y="1754">Y.</tspan><tspan x="2433" y="1762">list.</tspan><tspan x="2430" y="1770">dnswl.</tspan><tspan x="2438" y="1778">org</tspan><tspan x="2430" y="1786">3 hops</tspan></text>
<text><tspan x="2454" y="1746">9@</tspan><tspan x="2454" y="1754">2.</tspan><tspan x="2447" y="1762">list.</tspan><tspan x="2444" y="1770">dnswl.</tspan><tspan x="2452" y="1778">org</tspan><tspan x="2444" y="1786">7 hops</tspan></text>
<text><tspan x="2467" y="1746">0@</tspan><tspan x="2460" y="1754">list.</tspan><tspan x="2457" y="1762">dnswl.</tspan><tspan x="2465" y="1770">org</tspan><tspan x="2457" y="1778">5 hops</tspan></text>
<text><tspan x="2479" y="1746">13@</tspan><tspan x="2481" y="1754">0.</tspan><tspan x="2474" y="1762">list.</tspan><tspan x="2471" y="1770">dnswl.</tspan><tspan x="2479" y="1778">org</tspan><tspan x="2471" y="1786">5 hops</tspan></text>
<text><tspan x="2494" y="1746">6@</tspan><tspan x="2494" y="1754">2.</tspan><tspan x="2487" y="1762">list.</tspan><tspan x="2484" y="1770">dnswl.</tspan><tspan x="2492" y="1778">org</tspan><tspan x="2484" y="1786">6 hops</tspan></text>
<text><tspan x="2508" y="1746">3@</tspan><tspan x="2508" y="1754">0.</tspan><tspan x="2501" y="1762">list.</tspan><tspan x="2498" y="1770">dnswl.</tspan><tspan x="2506" y="1778">org</tspan><tspan x="2498" y="1786">2 hops</tspan></text>
<text><tspan x="2521" y="1746">5@</tspan><tspan x="2521" y="1754">2.</tspan><tspan x="2514" y="1762">list.</tspan><tspan x="2511" y="1770">dnswl.</tspan><tspan x="2519" y="1778">org</tspan><tspan x="2511" y="1786">6 hops</tspan></text>
<text><tspan x="2534" y="1746">2@</tspan><tspan x="2534" y="1754">Y.</tspan><tspan x="2527" y="1762">list.</tspan><tspan x="2524" y="1770">dnswl.</tspan><tspan x="2532" y="1778">org</tspan><tspan x="2524" y="1786">5 hops</tspan></text>
<text><tspan x="2548" y="1746">6@</tspan><tspan x="2548" y="1754">0.</tspan><tspan x="2541" y="1762">list.</tspan><tspan x="2538" y="1770">dnswl.</tspan><tspan x="2546" y="1778">org</tspan><tspan x="2538" y="1786">4 hops</tspan></text>
<text><tspan x="2561" y="1746">2@</tspan><tspan x="2561" y="1754">2.</tspan><tspan x="2554" y="1762">list.</tspan><tspan x="2551" y="1770">dnswl.</tspan><tspan x="2559" y="1778">org</tspan><tspan x="2551" y="1786">3 hops</tspan></text>
<text><tspan x="2575" y="1746">4@</tspan><tspan x="2575" y="1754">0.</tspan><tspan x="2568" y="1762">list.</tspan><tspan x="2565" y="1770">dnswl.</tspan><tspan x="2573" y="1778">org</tspan><tspan x="2565" y="1786">2 hops</tspan></text>
<text><tspan x="2586" y="1746">14@</tspan><tspan x="2588" y="1754">1.</tspan><tspan x="2581" y="1762">list.</tspan><tspan x="2578" y="1770">dnswl.</tspan><tspan x="2586" y="1778">org</tspan><tspan x="2578" y="1786">3 hops</tspan></text>
<text><tspan x="2602" y="1746">0@</tspan><tspan x="2595" y="1754">list.</tspan><tspan x="2592" y="1762">dnswl.</tspan><tspan x="2600" y="1770">org</tspan><tspan x="2592" y="1778">2 hops</tspan></text>
<text><tspan x="2615" y="1746">5@</tspan><tspan x="2615" y="1754">Y.</tspan><tspan x="2608" y="1762">list.</tspan><tspan x="2605" y="1770">dnswl.</tspan><tspan x="2613" y="1778">org</tspan><tspan x="2605" y="1786">2 hops</tspan></text>
<text><tspan x="2626" y="1746">15@</tspan><tspan x="2628" y="1754">0.</tspan><tspan x="2621" y="1762">list.</tspan><tspan x="2618" y="1770">dnswl.</tspan><tspan x="2626" y="1778">org</tspan><tspan x="2618" y="1786">4 hops</tspan></text>
<text><tspan x="2642" y="1746">6@</tspan><tspan x="2642" y="1754">2.</tspan><tspan x="2635" y="1762">list.</tspan><tspan x="2632" y="1770">dnswl.</tspan><tspan x="2640" y="1778">org</tspan><tspan x="2632" y="1786">7 hops</tspan></text>
<text><tspan x="2655" y="1746">2@</tspan><tspan x="2648" y="1754">list.</tspan><tspan x="2645" y="1762">dnswl.</tspan><tspan x="2653" y="1770">org</tspan><tspan x="2645" y="1778">6 hops</tspan></text>
<text><tspan x="2669" y="1746">5@</tspan><tspan x="2669" y="1754">0.</tspan><tspan x="2662" y="1762">list.</tspan><tspan x="2659" y="1770">dnswl.</tspan><tspan x="2667" y="1778">org</tspan><tspan x="2659" y="1786">5 hops</tspan></text>
<text><tspan x="2682" y="1746">5@</tspan><tspan x="2682" y="1754">2.</tspan><tspan x="2675" y="1762">list.</tspan><tspan x="2672" y="1770">dnswl.</tspan><tspan x="2680" y="1778">org</tspan><tspan x="2672" y="1786">6 hops</tspan></text>
<text><tspan x="2696" y="1746">5@</tspan><tspan x="2696" y="1754">0.</tspan><tspan x="2689" y="1762">list.</tspan><tspan x="2686" y="1770">dnswl.</tspan><tspan x="2694" y="1778">org</tspan><tspan x="2686" y="1786">4 hops</tspan></text>
<text><tspan x="2709" y="1746">9@</tspan><tspan x="2709" y="1754">1.</tspan><tspan x="2702" y="1762">list.</tspan><tspan x="2699" y="1770">dnswl.</tspan><tspan x="2707" y="1778">org</tspan><tspan x="2699" y="1786">2 hops</tspan></text>
<text><tspan x="2720" y="1746">14@</tspan><tspan x="2722" y="1754">0.</tspan><tspan x="2715" y="1762">list.</tspan><tspan x="2712" y="1770">dnswl.</tspan><tspan x="2720" y="1778">org</tspan><tspan x="2712" y="1786">2 hops</tspan></text>
<text><tspan x="2736" y="1746">9@</tspan><tspan x="2736" y="1754">Y.</tspan><tspan x="2729" y="1762">list.</tspan><tspan x="2726" y="1770">dnswl.</tspan><tspan x="2734" y="1778">org</tspan><tspan x="2726" y="1786">2 hops</tspan></text>
<text><tspan x="2749" y="1746">9@</tspan><tspan x="2749" y="1754">2.</tspan><tspan x="2742" y="1762">list.</tspan><tspan x="2739" y="1770">dnswl.</tspan><tspan x="2747" y="1778">org</tspan><tspan x="2739" y="1786">7 hops</tspan></text>
<text><tspan x="2763" y="1746">1@</tspan><tspan x="2756" y="1754">list.</tspan><tspan x="2753" y="1762">dnswl.</tspan><tspan x="2761" y="1770">org</tspan><tspan x="2753" y="1778">5 hops</tspan></text>
<text><tspan x="2774" y="1746">13@</tspan><tspan x="2776" y="1754">1.</tspan><tspan x="2769" y="1762">list.</tspan><tspan x="2766" y="1770">dnswl.</tspan><tspan x="2774" y="1778">org</tspan><tspan x="2766" y="1786">2 hops</tspan></text>
<text><tspan x="2788" y="1746">13@</tspan><tspan x="2790" y="1754">1.</tspan><tspan x="2783" y="1762">list.</tspan><tspan x="2780" y="1770">dnswl.</tspan><tspan x="2788" y="1778">org</tspan><tspan x="2780" y="1786">5 hops</tspan></text>
<text><tspan x="2803" y="1746">3@</tspan><tspan x="2803" y="1754">Y.</tspan><tspan x="2796" y="1762">list.</tspan><tspan x="2793" y="1770">dnswl.</tspan><tspan x="2801" y="1778">org</tspan><tspan x="2793" y="1786">2 hops</tspan></text>
<text><tspan x="2816" y="1746">1@</tspan><tspan x="2809" y="1754">list.</tspan><tspan x="2806" y="1762">dnswl.</tspan><tspan x="2814" y="1770">org</tspan><tspan x="2806" y="1778">6 hops</tspan></text>
<text><tspan x="2828" y="1746">11@</tspan><tspan x="2830" y="1754">1.</tspan><tspan x="2823" y="1762">list.</tspan><tspan x="2820" y="1770">dnswl.</tspan><tspan x="2828" y="1778">org</tspan><tspan x="2820" y="1786">5 hops</tspan></text>
<text><tspan x="2843" y="1746">0@</tspan><tspan x="2836" y="1754">list.</tspan><tspan x="2833" y="1762">dnswl.</tspan><tspan x="2841" y="1770">org</tspan><tspan x="2836" y="1778">1 hop</tspan></text>
<text><tspan x="2857" y="1746">3@</tspan><tspan x="2857" y="1754">1.</tspan><tspan x="2850" y="1762">list.</tspan><tspan x="2847" y="1770">dnswl.</tspan><tspan x="2855" y="1778">org</tspan><tspan x="2847" y="1786">3 hops</tspan></text>
<text><tspan x="2870" y="1746">4@</tspan><tspan x="2870" y="1754">2.</tspan><tspan x="2863" y="1762">list.</tspan><tspan x="2860" y="1770">dnswl.</tspan><tspan x="2868" y="1778">org</tspan><tspan x="2860" y="1786">2 hops</tspan></text>
<text><tspan x="2884" y="1746">4@</tspan><tspan x="2884" y="1754">Y.</tspan><tspan x="2877" y="1762">list.</tspan><tspan x="2874" y="1770">dnswl.</tspan><tspan x="2882" y="1778">org</tspan><tspan x="2874" y="1786">7 hops</tspan></text>
<text><tspan x="2895" y="1746">10@</tspan><tspan x="2892" y="1754">zen.</tspan><tspan x="2880" y="1762">spamhaus.</tspan><tspan x="2895" y="1770">org</tspan><tspan x="2887" y="1778">2 hops</tspan></text>
<text><tspan x="2910" y="1746">3@</tspan><tspan x="2910" y="1754">2.</tspan><tspan x="2903" y="1762">list.</tspan><tspan x="2900" y="1770">dnswl.</tspan><tspan x="2908" y="1778">org</tspan><tspan x="2900" y="1786">5 hops</tspan></text>
<text><tspan x="2924" y="1746">9@</tspan><tspan x="2924" y="1754">1.</tspan><tspan x="2917" y="1762">list.</tspan><tspan x="2914" y="1770">dnswl.</tspan><tspan x="2922" y="1778">org</tspan><tspan x="2914" y="1786">5 hops</tspan></text>
<text><tspan x="2937" y="1746">5@</tspan><tspan x="2937" y="1754">1.</tspan><tspan x="2930" y="1762">list.</tspan><tspan x="2927" y="1770">dnswl.</tspan><tspan x="2935" y="1778">org</tspan><tspan x="2927" y="1786">5 hops</tspan></text>
<text><tspan x="2951" y="1746">3@</tspan><tspan x="2951" y="1754">0.</tspan><tspan x="2944" y="1762">list.</tspan><tspan x="2941" y="1770">dnswl.</tspan><tspan x="2949" y="1778">org</tspan><tspan x="2941" y="1786">2 hops</tspan></text>
<text><tspan x="2964" y="1746">5@</tspan><tspan x="2964" y="1754">Y.</tspan><tspan x="2957" y="1762">list.</tspan><tspan x="2954" y="1770">dnswl.</tspan><tspan x="2962" y="1778">org</tspan><tspan x="2954" y="1786">6 hops</tspan></text>
<text><tspan x="2978" y="1746">5@</tspan><tspan x="2978" y="1754">0.</tspan><tspan x="2971" y="1762">list.</tspan><tspan x="2968" y="1770">dnswl.</tspan><tspan x="2976" y="1778">org</tspan><tspan x="2968" y="1786">2 hops</tspan></text>
<text><tspan x="2991" y="1746">3@</tspan><tspan x="2991" y="1754">1.</tspan><tspan x="2984" y="1762">list.</tspan><tspan x="2981" y="1770">dnswl.</tspan><tspan x="2989" y="1778">org</tspan><tspan x="2981" y="1786">6 hops</tspan></text>
<text><tspan x="3004" y="1746">2@</tspan><tspan x="2997" y="1754">list.</tspan><tspan x="2994" y="1762">dnswl.</tspan><tspan x="3002" y="1770">org</tspan><tspan x="2994" y="1778">2 hops</tspan></text>
<text><tspan x="3018" y="1746">2@</tspan><tspan x="3013" y="1754">ips.</tspan><tspan x="2988" y="1762">backscatterer.</tspan><tspan x="3016" y="1770">org</tspan><tspan x="3008" y="1778">2 hops</tspan></text>
<text><tspan x="3031" y="1746">5@</tspan><tspan x="3031" y="1754">1.</tspan><tspan x="3024" y="1762">list.</tspan><tspan x="3021" y="1770">dnswl.</tspan><tspan x="3029" y="1778">org</tspan><tspan x="3021" y="1786">4 hops</tspan></text>
<text><tspan x="3045" y="1746">4@</tspan><tspan x="3045" y="1754">0.</tspan><tspan x="3038" y="1762">list.</tspan><tspan x="3035" y="1770">dnswl.</tspan><tspan x="3043" y="1778">org</tspan><tspan x="3035" y="1786">6 hops</tspan></text>
<text><tspan x="3058" y="1746">3@</tspan><tspan x="3058" y="1754">0.</tspan><tspan x="3051" y="1762">list.</tspan><tspan x="3048" y="1770">dnswl.</tspan><tspan x="3056" y="1778">org</tspan><tspan x="3048" y="1786">3 hops</tspan></text>
<text><tspan x="3072" y="1746">9@</tspan><tspan x="3072" y="1754">1.</tspan><tspan x="3065" y="1762">list.</tspan><tspan x="3062" y="1770">dnswl.</tspan><tspan x="3070" y="1778">org</tspan><tspan x="3062" y="1786">2 hops</tspan></text>
<text><tspan x="3085" y="1746">9@</tspan><tspan x="3085" y="1754">2.</tspan><tspan x="3078" y="1762">list.</tspan><tspan x="3075" y="1770">dnswl.</tspan><tspan x="3083" y="1778">org</tspan><tspan x="3078" y="1786">1 hop</tspan></text>
<text><tspan x="3098" y="1746">2@</tspan><tspan x="3091" y="1754">list.</tspan><tspan x="3088" y="1762">dnswl.</tspan><tspan x="3096" y="1770">org</tspan><tspan x="3088" y="1778">4 hops</tspan></text>
<text><tspan x="3112" y="1746">9@</tspan><tspan x="3112" y="1754">Y.</tspan><tspan x="3105" y="1762">list.</tspan><tspan x="3102" y="1770">dnswl.</tspan><tspan x="3110" y="1778">org</tspan><tspan x="3102" y="1786">3 hops</tspan></text>
<text><tspan x="3125" y="1746">9@</tspan><tspan x="3125" y="1754">3.</tspan><tspan x="3118" y="1762">list.</tspan><tspan x="3115" y="1770">dnswl.</tspan><tspan x="3123" y="1778">org</tspan><tspan x="3115" y="1786">2 hops</tspan></text>
<text><tspan x="3139" y="1746">3@</tspan><tspan x="3132" y="1754">list.</tspan><tspan x="3129" y="1762">dnswl.</tspan><tspan x="3137" y="1770">org</tspan><tspan x="3129" y="1778">3 hops</tspan></text>
<text><tspan x="3152" y="1746">9@</tspan><tspan x="3152" y="1754">Y.</tspan><tspan x="3145" y="1762">list.</tspan><tspan x="3142" y="1770">dnswl.</tspan><tspan x="3150" y="1778">org</tspan><tspan x="3142" y="1786">6 hops</tspan></text>
<text><tspan x="3166" y="1746">9@</tspan><tspan x="3166" y="1754">2.</tspan><tspan x="3159" y="1762">list.</tspan><tspan x="3156" y="1770">dnswl.</tspan><tspan x="3164" y="1778">org</tspan><tspan x="3156" y="1786">4 hops</tspan></text>
</g>
</svg>
</body></html>
